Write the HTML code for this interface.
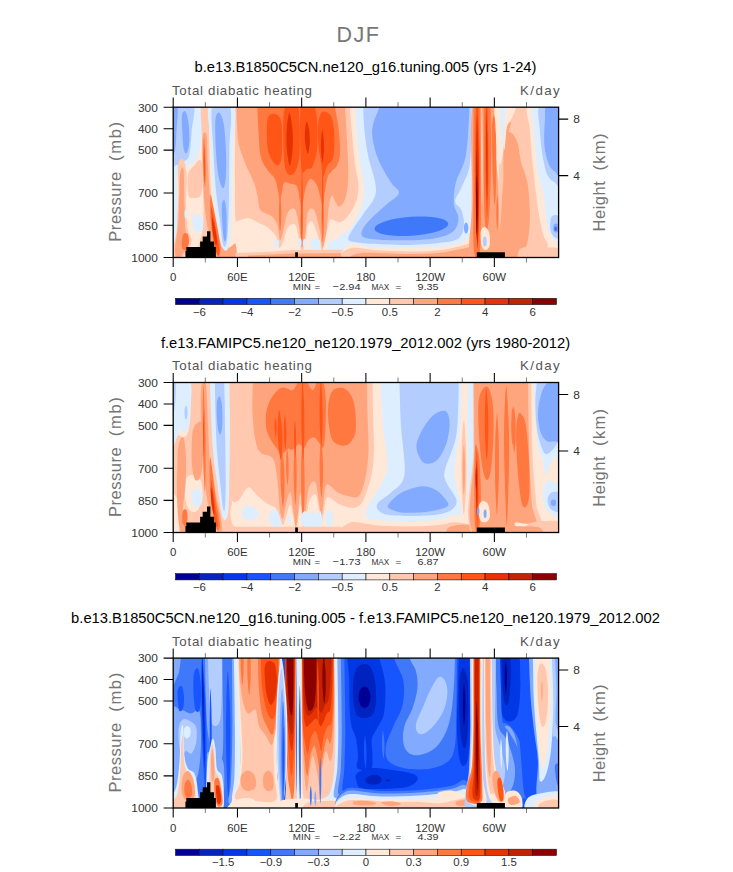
<!DOCTYPE html>
<html lang="en"><head><meta charset="utf-8"><title>DJF Total diabatic heating</title>
<style>
html,body{margin:0;padding:0;background:#fff;}
body{width:733px;height:872px;overflow:hidden;}
svg{display:block;}
text{font-family:"Liberation Sans",sans-serif;}
.tk{font-size:10.4px;fill:#333;}
.ax{font-size:16.5px;fill:#757575;}
.ts{font-size:13.3px;fill:#555;}
.ti{font-size:14.75px;fill:#000;}
.mm{font-size:9.9px;fill:#333;}
.cb{font-size:10.4px;fill:#333;}
.big{font-size:21.5px;fill:#777;letter-spacing:1.6px;}
</style></head><body>
<svg width="733" height="872" viewBox="0 0 733 872">
<defs>
<clipPath id="clip0"><rect x="173.2" y="107.2" width="385.40000000000003" height="150.3"/></clipPath>
<clipPath id="clip1"><rect x="173.2" y="382.5" width="385.40000000000003" height="150.0"/></clipPath>
<clipPath id="clip2"><rect x="173.2" y="658.1" width="385.40000000000003" height="149.9"/></clipPath>
<filter id="b1" x="-20%" y="-20%" width="140%" height="140%"><feGaussianBlur stdDeviation="0.7"/></filter>
<filter id="b2" x="-20%" y="-20%" width="140%" height="140%"><feGaussianBlur stdDeviation="1.6"/></filter>
</defs>
<rect width="733" height="872" fill="#fff"/>
<text x="358.5" y="41.6" text-anchor="middle" class="big">DJF</text>
<g id="panel0">
<g clip-path="url(#clip0)">
<g filter="url(#b1)"><rect x="171.2" y="105.2" width="389.40000000000003" height="155.0" fill="#ffe8d7"/>
<path d="M170.5 105.2C176.1 92.3 198.9 101.0 204.2 105.2C209.5 109.4 203.3 122.7 202.5 130.2C201.6 137.7 200.6 144.7 199.2 150.1C197.8 155.5 196.1 160.0 194.2 162.6C192.4 165.2 189.9 164.0 188.0 165.6C186.1 167.3 184.9 171.0 183.0 172.6C181.1 174.2 178.8 173.4 176.7 175.1C174.7 176.8 171.5 194.2 170.5 182.6C169.5 170.9 164.9 118.1 170.5 105.2Z" fill="#dceeff"/>
<path d="M170.5 105.2C174.2 94.4 189.4 101.0 193.0 105.2C196.5 109.4 192.4 121.8 191.7 130.2C191.1 138.5 190.5 149.9 189.2 155.1C188.0 160.3 185.7 159.9 184.2 161.4C182.8 162.8 181.9 163.2 180.5 163.9C179.0 164.6 177.2 164.6 175.5 165.6C173.8 166.7 171.3 180.2 170.5 170.1C169.7 160.0 166.8 116.0 170.5 105.2Z" fill="#b4cdff"/>
<path d="M170.5 105.2C171.7 96.5 176.5 101.0 177.5 105.2C178.5 109.4 176.9 122.7 176.5 130.2C176.1 137.7 176.0 145.6 175.0 150.1C174.0 154.7 171.3 165.1 170.5 157.6C169.8 150.1 169.3 113.9 170.5 105.2Z" fill="#82aaff"/>
<path d="M182.0 115.2C182.5 111.2 184.4 110.2 185.5 111.4C186.6 112.7 187.8 117.9 188.5 122.7C189.1 127.5 189.7 135.2 189.5 140.2C189.2 145.1 187.9 151.0 187.0 152.6C186.1 154.3 184.7 153.1 184.0 150.1C183.2 147.2 182.8 141.0 182.5 135.2C182.2 129.3 181.5 119.1 182.0 115.2Z" fill="#82aaff"/>
<path d="M178.0 165.1C178.7 159.9 181.5 157.2 183.0 158.9C184.4 160.5 186.2 167.4 186.7 175.1C187.2 182.8 185.8 195.9 186.0 205.1C186.2 214.2 187.0 224.2 188.0 230.0C188.9 235.9 191.7 236.7 191.7 240.0C191.7 243.4 189.9 246.9 188.0 250.0C186.1 253.2 183.2 257.5 180.5 259.0C177.8 260.5 173.2 262.2 171.8 259.0C170.3 255.8 170.9 246.9 171.8 240.0C172.6 233.1 175.6 225.9 176.7 217.6C177.9 209.2 178.3 198.8 178.5 190.1C178.7 181.3 177.2 170.3 178.0 165.1Z" fill="#ffc8af"/>
<path d="M188.0 175.1C188.9 170.2 192.1 168.1 194.2 165.6C196.3 163.1 199.0 158.5 200.5 160.1C201.9 161.7 202.9 169.3 203.0 175.1C203.0 180.9 202.6 191.3 201.0 195.1C199.3 198.9 195.1 198.1 193.0 198.1C190.9 198.1 189.3 198.9 188.5 195.1C187.6 191.3 187.0 180.0 188.0 175.1Z" fill="#ffc8af"/>
<path d="M201.0 105.2C202.0 99.8 206.5 97.7 208.0 105.2C209.4 112.7 209.0 137.2 209.5 150.1C209.9 163.0 209.9 173.4 210.5 182.6C211.0 191.8 210.9 193.8 213.0 205.1C215.0 216.3 220.6 241.0 222.9 250.0C225.2 259.0 230.8 257.5 226.7 259.0C222.5 260.5 202.0 263.8 198.0 259.0C193.9 254.2 201.5 239.0 202.5 230.0C203.4 221.0 203.5 214.2 203.5 205.1C203.5 195.9 202.7 186.3 202.5 175.1C202.2 163.9 202.2 149.3 202.0 137.7C201.7 126.0 200.0 110.6 201.0 105.2Z" fill="#ffc8af"/>
<path d="M180.0 175.1C180.8 166.8 182.7 165.1 183.5 170.1C184.2 175.1 184.2 195.1 184.5 205.1C184.8 215.1 184.8 224.2 185.5 230.0C186.2 235.9 188.5 236.7 188.5 240.0C188.5 243.4 187.2 246.9 185.5 250.0C183.7 253.2 179.7 259.0 178.0 259.0C176.2 259.0 174.9 256.5 175.0 250.0C175.1 243.5 177.7 232.5 178.5 220.1C179.3 207.6 179.2 183.4 180.0 175.1Z" fill="#ffa57d"/>
<path d="M202.5 137.7C203.0 131.0 205.5 130.6 206.5 135.2C207.4 139.7 207.3 154.3 208.0 165.1C208.6 175.9 209.1 190.9 210.5 200.1C211.8 209.2 214.1 211.3 215.9 220.1C217.8 228.8 222.2 246.0 221.7 252.5C221.2 259.0 215.2 262.7 213.0 259.0C210.7 255.3 209.4 239.0 208.0 230.0C206.5 221.0 205.3 214.2 204.5 205.1C203.6 195.9 203.3 186.3 203.0 175.1C202.6 163.9 201.9 144.3 202.5 137.7Z" fill="#ffa57d"/>
<path d="M192.5 217.6C193.3 215.5 196.2 213.4 198.0 213.8C199.7 214.2 202.2 217.3 203.0 220.1C203.7 222.8 203.5 228.0 202.5 230.0C201.4 232.1 198.3 233.2 196.7 232.5C195.1 231.9 193.7 228.8 193.0 226.3C192.3 223.8 191.6 219.6 192.5 217.6Z" fill="#dceeff"/>
<ellipse cx="186.0" cy="213.8" rx="1.5" ry="4.5" fill="#dceeff"/>
<path d="M204.0 137.7C204.3 137.7 204.9 146.0 205.2 150.1C205.5 154.3 205.6 158.5 205.7 162.6C205.8 166.8 205.8 170.9 205.7 175.1C205.6 179.3 205.3 187.6 205.0 187.6C204.6 187.6 204.0 179.3 203.7 175.1C203.4 170.9 203.3 166.8 203.2 162.6C203.1 158.5 203.1 154.3 203.2 150.1C203.3 146.0 203.6 137.7 204.0 137.7Z" fill="#ff7841"/>
<path d="M204.2 147.6C204.4 147.6 204.7 153.5 204.8 156.4C205.0 159.3 205.0 162.2 205.1 165.1C205.1 168.0 205.1 170.9 205.1 173.9C205.0 176.8 204.9 182.6 204.7 182.6C204.5 182.6 204.2 176.8 204.1 173.9C203.9 170.9 203.9 168.0 203.8 165.1C203.8 162.2 203.8 159.3 203.8 156.4C203.9 153.5 204.0 147.6 204.2 147.6Z" fill="#ff5519"/>
<path d="M210.5 195.1C210.9 193.0 211.9 200.1 213.0 205.1C214.0 210.1 215.4 217.6 216.7 225.0C218.0 232.5 220.7 244.8 220.9 250.0C221.1 255.2 219.3 257.9 217.9 256.3C216.6 254.6 214.2 246.5 213.0 240.0C211.7 233.6 210.9 225.0 210.5 217.6C210.0 210.1 210.0 197.2 210.5 195.1Z" fill="#ff7841"/>
<path d="M211.0 207.6C211.0 204.2 212.5 210.5 213.4 215.1C214.4 219.6 215.9 228.8 216.9 235.0C218.0 241.3 219.9 249.4 219.9 252.5C219.9 255.6 218.1 256.7 216.9 253.8C215.8 250.8 213.9 242.7 213.0 235.0C212.0 227.3 210.9 210.9 211.0 207.6Z" fill="#ff5519"/>
<path d="M212.0 217.6C212.2 216.3 213.6 221.3 214.4 225.0C215.3 228.8 216.7 236.7 216.9 240.0C217.2 243.4 216.6 246.3 215.9 245.0C215.3 243.8 213.6 237.1 213.0 232.5C212.3 228.0 211.7 218.8 212.0 217.6Z" fill="#e63205"/>
<path d="M183.0 235.0C183.9 232.7 186.5 232.5 187.5 233.8C188.5 235.0 189.2 239.8 189.0 242.5C188.7 245.2 187.1 249.2 186.0 250.0C184.8 250.8 182.5 250.0 182.0 247.5C181.5 245.0 182.1 237.3 183.0 235.0Z" fill="#ff7841"/>
<path d="M171.5 167.6C172.2 155.5 174.5 165.5 175.5 170.1C176.5 174.7 177.0 185.9 177.2 195.1C177.5 204.2 177.4 217.6 177.0 225.0C176.6 232.5 175.9 237.1 175.0 240.0C174.1 242.9 172.1 254.6 171.5 242.5C170.9 230.5 170.8 179.7 171.5 167.6Z" fill="#dceeff"/>
<path d="M221.9 246.3C223.4 244.4 226.9 247.9 229.2 247.5C231.4 247.1 234.4 241.9 235.4 243.8C236.5 245.7 237.9 256.5 235.4 259.0C232.9 261.5 222.7 261.1 220.4 259.0C218.2 256.9 220.5 248.2 221.9 246.3Z" fill="#ffa57d"/>
<path d="M235.4 85.2C216.4 88.5 235.5 90.2 235.4 105.2C235.3 120.2 234.9 156.4 234.9 175.1C234.9 193.8 234.8 210.0 235.4 217.6C236.0 225.1 236.3 220.5 238.4 220.5C240.5 220.6 244.7 217.7 247.9 218.1C251.2 218.4 254.6 221.0 257.9 222.5C261.2 224.1 264.9 225.3 267.9 227.5C270.9 229.8 274.0 233.0 275.9 236.3C277.7 239.6 278.0 246.5 279.1 247.5C280.3 248.6 281.4 245.9 282.9 242.5C284.3 239.2 285.8 230.5 287.9 227.5C289.9 224.6 293.5 223.0 295.3 225.0C297.2 227.1 298.0 235.7 299.1 240.0C300.2 244.4 300.8 250.8 301.8 251.3C302.9 251.7 304.3 246.9 305.3 242.5C306.3 238.2 306.6 228.4 307.8 225.0C309.1 221.7 311.0 220.1 312.8 222.5C314.7 225.0 317.6 235.2 319.1 240.0C320.6 244.8 320.9 250.7 321.8 251.3C322.7 251.8 323.4 247.1 324.3 243.3C325.3 239.5 326.4 232.5 327.6 228.5C328.7 224.6 328.9 220.6 331.1 219.6C333.2 218.5 337.2 223.2 340.3 222.3C343.4 221.4 346.8 217.9 349.5 214.1C352.3 210.2 355.3 204.5 356.8 199.3C358.2 194.1 358.6 188.7 358.3 182.8C358.0 177.0 356.0 172.0 355.0 164.4C354.0 156.7 353.1 146.8 352.3 136.9C351.4 127.0 350.2 113.8 349.8 105.2C349.4 96.6 368.8 88.5 349.8 85.2C330.7 81.9 254.5 81.9 235.4 85.2Z" fill="#ffc8af"/>
<path d="M236.4 85.2C218.3 88.5 236.3 99.0 236.4 105.2C236.5 111.4 236.6 116.4 236.9 122.7C237.3 128.9 237.1 136.0 238.4 142.6C239.7 149.3 242.4 156.2 244.9 162.6C247.4 169.1 251.3 175.9 253.4 181.3C255.5 186.8 256.2 190.3 257.4 195.1C258.6 199.9 258.0 206.5 260.4 210.1C262.8 213.6 268.8 213.8 271.6 216.3C274.5 218.8 276.0 221.1 277.4 225.0C278.7 229.0 279.0 238.8 279.9 240.0C280.8 241.3 281.5 237.1 282.9 232.5C284.2 228.0 285.8 216.3 287.9 212.6C289.9 208.8 293.4 207.1 295.3 210.1C297.3 213.0 298.5 223.8 299.6 230.0C300.7 236.3 301.1 246.7 302.1 247.5C303.0 248.3 304.4 240.9 305.3 235.0C306.3 229.2 306.4 216.7 307.8 212.6C309.3 208.4 312.1 207.1 314.1 210.1C316.1 213.0 318.4 223.8 319.8 230.0C321.2 236.3 321.3 246.7 322.3 247.5C323.3 248.3 324.9 239.7 325.8 235.0C326.7 230.4 327.0 224.9 327.6 219.6C328.1 214.2 328.6 207.1 329.3 203.1C330.1 199.1 331.0 195.6 332.1 195.6C333.1 195.5 334.5 201.0 335.8 202.8C337.0 204.7 338.0 207.1 339.5 206.6C341.1 206.0 343.6 203.3 345.0 199.3C346.4 195.4 347.5 189.3 348.0 182.8C348.5 176.4 348.2 168.3 348.0 160.6C347.8 153.0 347.3 146.1 346.8 136.9C346.3 127.7 345.3 113.8 345.0 105.2C344.7 96.6 363.1 88.5 345.0 85.2C326.9 81.9 254.5 81.9 236.4 85.2Z" fill="#ffa57d"/>
<path d="M257.4 85.2C244.5 88.5 257.2 97.7 257.4 105.2C257.6 112.7 257.8 121.5 258.4 130.2C259.0 138.8 259.3 150.4 260.9 157.1C262.5 163.9 265.6 167.0 267.9 170.6C270.2 174.2 273.2 175.6 274.9 178.9C276.5 182.1 277.0 186.6 277.9 190.1C278.7 193.6 279.2 199.7 279.9 200.1C280.5 200.5 281.1 195.5 281.9 192.6C282.6 189.7 282.9 184.1 284.4 182.6C285.8 181.1 288.3 183.2 290.4 183.8C292.4 184.5 295.3 183.6 296.8 186.3C298.4 189.0 299.1 196.1 299.8 200.1C300.6 204.0 301.0 210.1 301.6 210.1C302.2 210.1 302.6 203.8 303.3 200.1C304.0 196.3 304.7 191.1 305.8 187.6C307.0 184.1 308.5 179.3 310.3 178.9C312.2 178.4 315.2 182.0 316.8 185.1C318.5 188.2 319.4 193.8 320.3 197.6C321.3 201.3 321.9 208.0 322.6 207.6C323.2 207.1 323.5 200.1 324.3 195.1C325.1 190.0 326.4 181.2 327.6 177.4C328.7 173.5 329.4 174.0 331.1 171.9C332.7 169.7 336.0 167.7 337.5 164.4C339.0 161.0 339.9 157.8 340.0 151.6C340.2 145.5 339.4 135.4 338.5 127.7C337.7 119.9 335.4 112.3 334.8 105.2C334.2 98.1 347.7 88.5 334.8 85.2C321.9 81.9 270.3 81.9 257.4 85.2Z" fill="#ff7841"/>
<path d="M280.1 195.1C280.4 195.1 280.9 201.1 281.1 204.1C281.3 207.1 281.4 210.2 281.4 213.2C281.4 216.2 281.3 219.2 281.1 222.2C280.9 225.3 280.4 231.3 280.1 231.3C279.8 231.3 279.3 225.3 279.1 222.2C278.9 219.2 278.9 216.2 278.9 213.2C278.9 210.2 278.9 207.1 279.1 204.1C279.3 201.1 279.8 195.1 280.1 195.1Z" fill="#ff7841"/>
<path d="M301.6 200.1C301.9 200.1 302.4 208.0 302.7 211.9C302.9 215.9 302.9 219.8 303.0 223.8C303.0 227.7 303.0 231.7 302.8 235.7C302.6 239.6 302.2 247.5 301.8 247.5C301.5 247.5 301.0 239.6 300.8 235.7C300.5 231.7 300.5 227.7 300.5 223.8C300.4 219.8 300.5 215.9 300.7 211.9C300.8 208.0 301.3 200.1 301.6 200.1Z" fill="#ff7841"/>
<path d="M322.6 200.1C322.9 200.1 323.4 207.1 323.6 210.7C323.9 214.2 323.9 217.8 323.9 221.3C324.0 224.8 323.9 228.4 323.7 231.9C323.6 235.4 323.1 242.5 322.8 242.5C322.5 242.5 322.0 235.4 321.8 231.9C321.5 228.4 321.5 224.8 321.4 221.3C321.4 217.8 321.4 214.2 321.6 210.7C321.8 207.1 322.2 200.1 322.6 200.1Z" fill="#ff7841"/>
<path d="M267.4 120.2C268.0 116.7 269.1 115.0 270.9 114.2C272.6 113.4 276.1 113.8 277.9 115.2C279.6 116.6 280.7 118.5 281.4 122.7C282.1 126.8 282.1 134.1 282.1 140.2C282.1 146.2 282.2 154.6 281.4 158.9C280.6 163.1 279.0 165.4 277.4 165.6C275.8 165.8 273.5 162.7 271.9 160.1C270.3 157.5 268.7 154.3 267.9 150.1C267.0 146.0 267.0 140.2 266.9 135.2C266.8 130.2 266.7 123.7 267.4 120.2Z" fill="#ff5519"/>
<path d="M283.4 117.7C283.9 110.2 284.6 107.3 286.9 105.2C289.1 103.1 295.0 103.1 297.1 105.2C299.2 107.3 298.9 111.9 299.3 117.7C299.8 123.5 299.9 133.5 299.8 140.2C299.8 146.8 299.8 152.6 299.1 157.6C298.4 162.7 297.3 167.7 295.8 170.6C294.4 173.5 292.1 175.4 290.4 175.1C288.6 174.8 286.5 173.0 285.4 168.9C284.2 164.7 283.9 158.7 283.6 150.1C283.3 141.6 282.8 125.2 283.4 117.7Z" fill="#ff5519"/>
<path d="M300.1 117.7C300.4 109.8 300.1 107.3 302.3 105.2C304.5 103.1 310.9 103.1 313.3 105.2C315.7 107.3 316.2 112.3 316.8 117.7C317.5 123.1 317.4 131.8 317.3 137.7C317.3 143.5 317.4 147.7 316.6 152.6C315.7 157.5 313.7 164.4 312.1 167.1C310.5 169.9 308.5 168.3 306.8 169.1C305.2 169.9 303.1 174.9 302.1 172.1C301.0 169.4 300.9 161.7 300.6 152.6C300.3 143.6 299.8 125.6 300.1 117.7Z" fill="#ff5519"/>
<path d="M318.1 125.2C318.6 119.3 319.8 113.8 321.8 112.2C323.9 110.5 328.3 112.6 330.3 115.2C332.3 117.8 333.1 122.7 333.8 127.7C334.5 132.7 334.5 139.9 334.3 145.1C334.1 150.4 334.0 155.7 332.8 159.1C331.6 162.5 328.9 162.7 327.3 165.6C325.7 168.5 324.1 177.1 323.1 176.6C322.0 176.1 321.8 167.4 321.1 162.6C320.3 157.8 319.1 153.9 318.6 147.6C318.1 141.4 317.5 131.1 318.1 125.2Z" fill="#ff5519"/>
<path d="M289.4 112.7C290.2 112.7 291.5 121.5 292.1 125.9C292.7 130.3 292.8 134.7 292.9 139.2C292.9 143.6 292.8 148.0 292.3 152.4C291.8 156.8 290.7 165.6 289.9 165.6C289.0 165.6 287.7 156.8 287.1 152.4C286.5 148.0 286.4 143.6 286.4 139.2C286.3 134.7 286.4 130.3 286.9 125.9C287.4 121.5 288.5 112.7 289.4 112.7Z" fill="#e63205"/>
<path d="M306.8 121.4C307.5 121.4 308.6 126.8 309.1 129.5C309.6 132.2 309.7 134.9 309.8 137.7C309.9 140.4 309.9 143.1 309.6 145.8C309.2 148.5 308.5 153.9 307.8 153.9C307.2 153.9 306.1 148.5 305.6 145.8C305.1 143.1 304.9 140.4 304.8 137.7C304.8 134.9 304.8 132.2 305.1 129.5C305.4 126.8 306.2 121.4 306.8 121.4Z" fill="#e63205"/>
<path d="M322.3 130.2C322.7 130.2 323.3 135.6 323.6 138.3C323.8 141.0 323.9 143.7 323.9 146.4C324.0 149.1 323.9 151.8 323.7 154.5C323.5 157.2 323.0 162.6 322.6 162.6C322.2 162.6 321.6 157.2 321.3 154.5C321.0 151.8 321.0 149.1 320.9 146.4C320.9 143.7 320.9 141.0 321.2 138.3C321.4 135.6 321.9 130.2 322.3 130.2Z" fill="#e63205"/>
<path d="M302.1 165.1C302.3 165.1 302.5 177.6 302.6 183.8C302.7 190.1 302.7 196.3 302.7 202.6C302.7 208.8 302.6 215.1 302.5 221.3C302.4 227.5 302.0 240.0 301.8 240.0C301.6 240.0 301.4 227.5 301.3 221.3C301.2 215.1 301.2 208.8 301.2 202.6C301.2 196.3 301.3 190.1 301.4 183.8C301.6 177.6 301.9 165.1 302.1 165.1Z" fill="#ff5519"/>
<path d="M322.6 162.6C322.8 162.6 323.1 173.0 323.2 178.2C323.4 183.4 323.4 188.6 323.4 193.8C323.5 199.0 323.5 204.2 323.3 209.4C323.2 214.6 323.0 225.0 322.8 225.0C322.6 225.0 322.3 214.6 322.2 209.4C322.0 204.2 322.0 199.0 321.9 193.8C321.9 188.6 321.9 183.4 322.0 178.2C322.1 173.0 322.4 162.6 322.6 162.6Z" fill="#ff5519"/>
<path d="M209.5 105.2C213.3 99.4 229.8 97.7 233.7 105.2C237.6 112.7 233.2 134.3 232.9 150.1C232.6 166.0 232.3 186.8 231.9 200.1C231.6 213.4 231.5 222.1 230.9 230.0C230.3 237.9 229.6 244.2 228.4 247.5C227.3 250.8 225.6 251.3 224.2 250.0C222.8 248.8 221.4 246.7 219.9 240.0C218.5 233.4 216.8 219.6 215.4 210.1C214.1 200.5 212.8 194.2 212.0 182.6C211.1 170.9 210.9 153.1 210.5 140.2C210.0 127.2 205.6 111.0 209.5 105.2Z" fill="#dceeff"/>
<path d="M212.5 105.2C215.2 97.7 227.1 97.7 229.9 105.2C232.8 112.7 229.6 134.3 229.4 150.1C229.3 166.0 229.2 186.8 228.9 200.1C228.7 213.4 228.4 222.5 227.9 230.0C227.4 237.5 226.8 242.7 225.9 245.0C225.1 247.3 223.9 247.9 222.9 243.8C221.9 239.6 221.1 229.0 219.9 220.1C218.8 211.1 217.0 201.7 215.9 190.1C214.9 178.4 214.0 164.3 213.4 150.1C212.9 136.0 209.7 112.7 212.5 105.2Z" fill="#b4cdff"/>
<path d="M215.4 120.2C216.0 113.9 217.8 112.1 219.2 112.7C220.6 113.3 222.6 117.7 223.7 123.9C224.8 130.2 225.6 141.6 225.9 150.1C226.3 158.7 226.3 168.9 225.9 175.1C225.6 181.3 224.8 185.9 223.9 187.6C223.1 189.3 221.9 187.6 220.9 185.1C219.9 182.6 218.8 178.4 217.9 172.6C217.1 166.8 216.4 158.9 215.9 150.1C215.5 141.4 214.9 126.4 215.4 120.2Z" fill="#82aaff"/>
<path d="M221.9 205.1C222.3 201.7 223.7 198.8 224.4 200.1C225.2 201.3 226.1 206.7 226.4 212.6C226.8 218.4 226.7 230.2 226.4 235.0C226.2 239.9 225.4 241.3 224.9 241.5C224.4 241.7 223.9 239.9 223.4 236.3C223.0 232.7 222.4 225.3 222.2 220.1C221.9 214.8 221.6 208.4 221.9 205.1Z" fill="#82aaff"/>
<ellipse cx="276.6" cy="243.5" rx="2.5" ry="4.0" fill="#dceeff"/>
<ellipse cx="299.6" cy="242.5" rx="2.0" ry="4.5" fill="#dceeff"/>
<ellipse cx="304.6" cy="243.0" rx="1.7" ry="4.0" fill="#dceeff"/>
<path d="M310.3 241.5C311.0 239.9 313.2 238.2 314.8 238.0C316.4 237.9 318.9 238.9 319.8 240.5C320.7 242.2 321.1 246.5 320.3 248.0C319.6 249.5 316.9 249.6 315.3 249.5C313.7 249.4 311.7 248.8 310.8 247.5C310.0 246.2 309.7 243.1 310.3 241.5Z" fill="#dceeff"/>
<path d="M327.8 243.8C329.1 241.7 334.5 239.8 337.8 237.5C341.1 235.2 344.5 232.5 347.8 230.0C351.1 227.5 355.3 224.2 357.8 222.5C360.3 220.9 361.9 215.7 362.8 220.1C363.6 224.4 366.1 243.7 362.8 248.8C359.4 253.8 348.2 250.3 342.8 250.5C337.4 250.7 332.8 251.1 330.3 250.0C327.8 248.9 326.6 245.9 327.8 243.8Z" fill="#dceeff"/>
<path d="M235.4 253.0L272.9 251.5L292.9 250.0L362.8 249.5L362.8 259.0L235.4 259.0Z" fill="#ffc8af"/>
<path d="M247.9 255.5L292.9 253.5L362.8 253.0L362.8 259.0L247.9 259.0Z" fill="#ffa57d"/>
<path d="M355.0 85.2C335.2 88.5 354.6 96.6 355.0 105.2C355.4 113.8 356.3 127.0 357.2 136.9C358.2 146.8 359.3 155.8 360.5 164.4C361.7 172.9 363.9 181.9 364.2 188.3C364.6 194.7 364.2 197.0 362.5 202.8C360.8 208.6 356.7 217.7 354.0 223.0C351.3 228.4 347.3 231.6 346.0 235.0C344.7 238.5 343.5 241.8 346.0 243.8C348.5 245.8 351.0 246.3 361.0 247.0C371.0 247.7 393.0 248.1 405.9 248.0C418.8 248.0 429.2 247.6 438.4 246.8C447.6 245.9 455.5 245.8 460.9 243.0C466.3 240.2 468.6 237.2 470.9 230.0C473.1 222.9 473.9 220.9 474.4 200.1C474.9 179.3 473.9 124.3 473.9 105.2C473.8 86.1 493.7 88.5 473.9 85.2C454.0 81.9 374.8 81.9 355.0 85.2Z" fill="#dceeff"/>
<path d="M363.2 85.2C345.1 88.5 363.1 98.1 363.2 105.2C363.4 112.3 363.4 119.3 364.2 127.7C365.0 136.0 366.0 144.5 368.0 155.1C369.9 165.7 376.7 181.6 376.0 191.3C375.2 201.1 367.4 207.4 363.5 213.8C359.5 220.3 354.8 225.7 352.3 230.0C349.8 234.4 347.1 237.9 348.5 240.0C350.0 242.2 357.2 242.4 361.0 243.0C364.7 243.6 363.5 243.4 371.0 243.8C378.5 244.1 394.7 245.1 405.9 245.0C417.2 244.9 429.7 244.1 438.4 243.0C447.1 241.9 454.1 241.5 458.4 238.5C462.6 235.5 463.4 229.8 463.9 225.0C464.4 220.3 462.8 214.0 461.4 210.1C459.9 206.1 455.1 205.1 455.1 201.3C455.1 197.6 458.9 194.0 461.4 187.6C463.9 181.1 468.4 176.4 470.1 162.6C471.9 148.9 471.6 118.1 471.9 105.2C472.1 92.3 490.0 88.5 471.9 85.2C453.8 81.9 381.3 81.9 363.2 85.2Z" fill="#b4cdff"/>
<path d="M379.7 85.2C364.7 88.5 380.8 99.0 379.7 105.2C378.7 111.4 374.7 117.3 373.5 122.7C372.3 128.1 371.6 131.4 372.5 137.7C373.3 143.9 375.4 152.6 378.5 160.1C381.6 167.6 387.5 177.1 391.0 182.6C394.4 188.1 399.8 189.3 398.9 193.1C398.1 196.8 391.0 200.4 386.0 205.1C380.9 209.8 372.6 216.7 368.5 221.3C364.4 225.9 361.9 229.7 361.5 232.5C361.1 235.3 361.9 236.8 366.0 238.0C370.1 239.3 377.2 239.7 386.0 240.0C394.7 240.4 409.3 240.5 418.4 240.0C427.6 239.5 434.9 238.7 440.9 237.0C446.9 235.4 451.7 233.3 454.6 230.0C457.5 226.8 458.5 221.9 458.4 217.6C458.2 213.2 454.3 209.6 453.9 203.8C453.5 198.0 453.9 190.7 455.9 182.6C457.9 174.5 463.6 168.0 465.9 155.1C468.2 142.2 469.0 116.8 469.6 105.2C470.2 93.5 484.6 88.5 469.6 85.2C454.6 81.9 394.7 81.9 379.7 85.2Z" fill="#82aaff"/>
<ellipse cx="411.4" cy="226.3" rx="37.0" ry="9.5" fill="#4178fa" transform="rotate(-4 411.4 226.3)"/>
<ellipse cx="466.1" cy="228.0" rx="2.2" ry="5.5" fill="#82aaff"/>
<ellipse cx="484.8" cy="241.5" rx="2.0" ry="5.0" fill="#b4cdff"/>
<path d="M351.0 243.8C354.3 241.9 361.8 246.6 371.0 247.5C380.1 248.4 394.7 249.0 405.9 249.0C417.2 249.0 429.2 248.4 438.4 247.5C447.6 246.6 455.0 244.8 460.9 243.5C466.7 242.3 471.3 237.4 473.4 240.0C475.4 242.6 493.7 255.8 473.4 259.0C453.0 262.2 371.4 261.5 351.0 259.0C330.6 256.5 347.7 245.7 351.0 243.8Z" fill="#ffe8d7"/>
<path d="M351.0 248.0C356.0 246.6 369.7 249.9 381.0 250.5C392.2 251.1 408.4 251.6 418.4 251.5C428.4 251.4 433.8 250.9 440.9 250.0C448.0 249.1 455.5 247.3 460.9 246.3C466.3 245.2 471.3 241.6 473.4 243.8C475.4 245.9 493.7 256.5 473.4 259.0C453.0 261.5 371.4 260.8 351.0 259.0C330.6 257.2 346.0 249.4 351.0 248.0Z" fill="#ffc8af"/>
<path d="M361.0 253.0C368.5 252.2 393.0 254.0 405.9 254.0C418.8 254.0 429.2 253.8 438.4 253.0C447.6 252.2 455.0 249.9 460.9 249.0C466.7 248.1 471.3 245.9 473.4 247.5C475.4 249.2 492.1 257.1 473.4 259.0C454.6 260.9 379.7 260.0 361.0 259.0C342.3 258.0 353.5 253.8 361.0 253.0Z" fill="#ffa57d"/>
<path d="M472.4 105.2L505.8 105.2L505.8 259.0L469.6 259.0L470.9 240.0Z" fill="#ffc8af"/>
<path d="M494.8 105.2C496.7 101.0 504.1 101.0 505.8 105.2C507.5 109.4 505.3 120.6 504.8 130.2C504.3 139.7 503.7 153.9 502.8 162.6C501.9 171.4 500.7 182.6 499.6 182.6C498.5 182.6 497.1 171.4 496.3 162.6C495.5 153.9 495.1 139.7 494.8 130.2C494.6 120.6 493.0 109.4 494.8 105.2Z" fill="#ffe8d7"/>
<path d="M472.9 105.2C476.8 89.4 492.2 99.8 495.8 105.2C499.5 110.6 494.6 126.0 494.8 137.7C495.1 149.3 496.5 163.9 497.3 175.1C498.1 186.3 498.6 195.9 499.6 205.1C500.6 214.2 502.4 221.0 503.3 230.0C504.3 239.0 510.6 254.2 505.3 259.0C500.0 263.8 476.8 268.8 471.4 259.0C465.9 249.2 472.1 225.7 472.4 200.1C472.6 174.4 468.9 121.0 472.9 105.2Z" fill="#ffa57d"/>
<path d="M473.6 85.2C472.5 88.5 473.6 90.2 473.6 105.2C473.6 120.2 473.3 151.0 473.4 175.1C473.4 199.2 472.7 237.5 473.9 250.0C475.0 262.5 478.9 262.5 480.1 250.0C481.3 237.5 480.8 199.2 480.8 175.1C480.9 151.0 480.4 120.2 480.3 105.2C480.3 90.2 481.5 88.5 480.3 85.2C479.2 81.9 474.7 81.9 473.6 85.2Z" fill="#ff7841"/>
<path d="M483.6 85.2C482.4 88.5 483.5 90.2 483.6 105.2C483.6 120.2 483.6 156.0 483.8 175.1C484.0 194.2 484.3 210.9 484.8 220.1C485.4 229.2 486.5 232.5 487.3 230.0C488.2 227.5 489.2 218.4 489.8 205.1C490.5 191.8 491.0 166.8 491.1 150.1C491.2 133.5 490.7 116.0 490.6 105.2C490.5 94.4 491.7 88.5 490.6 85.2C489.4 81.9 484.8 81.9 483.6 85.2Z" fill="#ff7841"/>
<path d="M481.8 105.2C482.1 105.2 482.5 121.8 482.7 130.2C482.9 138.5 482.9 146.8 483.0 155.1C483.0 163.5 483.0 171.8 482.8 180.1C482.7 188.4 482.4 205.1 482.1 205.1C481.8 205.1 481.4 188.4 481.2 180.1C481.0 171.8 481.0 163.5 481.0 155.1C480.9 146.8 481.0 138.5 481.1 130.2C481.3 121.8 481.6 105.2 481.8 105.2Z" fill="#ffc8af"/>
<path d="M491.8 130.2C492.0 120.2 493.2 115.2 493.8 115.2C494.5 115.2 495.4 120.2 495.8 130.2C496.2 140.2 496.5 162.6 496.3 175.1C496.2 187.6 495.4 205.1 494.8 205.1C494.2 205.1 493.3 187.6 492.8 175.1C492.3 162.6 491.7 140.2 491.8 130.2Z" fill="#ff7841"/>
<path d="M477.1 90.2C477.7 90.2 478.6 116.8 479.0 130.2C479.4 143.5 479.6 156.8 479.6 170.1C479.6 183.4 479.6 196.7 479.3 210.1C478.9 223.4 478.2 250.0 477.6 250.0C477.0 250.0 476.1 223.4 475.7 210.1C475.3 196.7 475.1 183.4 475.1 170.1C475.1 156.8 475.1 143.5 475.4 130.2C475.8 116.8 476.5 90.2 477.1 90.2Z" fill="#ff5519"/>
<path d="M486.6 90.2C487.0 90.2 487.6 111.4 487.9 122.0C488.2 132.7 488.3 143.3 488.3 153.9C488.4 164.5 488.4 175.1 488.2 185.7C488.0 196.3 487.5 217.6 487.1 217.6C486.7 217.6 486.1 196.3 485.8 185.7C485.5 175.1 485.4 164.5 485.3 153.9C485.3 143.3 485.3 132.7 485.5 122.0C485.7 111.4 486.2 90.2 486.6 90.2Z" fill="#ff5519"/>
<path d="M477.1 115.2C477.5 115.2 478.1 137.2 478.4 148.3C478.7 159.3 478.8 170.3 478.8 181.3C478.9 192.4 478.9 203.4 478.7 214.4C478.5 225.5 478.0 247.5 477.6 247.5C477.2 247.5 476.6 225.5 476.3 214.4C476.0 203.4 475.9 192.4 475.9 181.3C475.8 170.3 475.8 159.3 476.0 148.3C476.2 137.2 476.7 115.2 477.1 115.2Z" fill="#e63205"/>
<path d="M486.6 110.2C486.8 110.2 487.1 125.2 487.3 132.7C487.5 140.2 487.5 147.6 487.6 155.1C487.6 162.6 487.6 170.1 487.6 177.6C487.5 185.1 487.3 200.1 487.1 200.1C486.9 200.1 486.5 185.1 486.4 177.6C486.2 170.1 486.1 162.6 486.1 155.1C486.0 147.6 486.0 140.2 486.1 132.7C486.2 125.2 486.4 110.2 486.6 110.2Z" fill="#e63205"/>
<path d="M476.8 150.1C477.1 150.1 477.6 165.1 477.8 172.6C478.0 180.1 478.1 187.6 478.1 195.1C478.1 202.6 478.1 210.1 477.9 217.6C477.8 225.0 477.4 240.0 477.1 240.0C476.8 240.0 476.3 225.0 476.1 217.6C475.9 210.1 475.9 202.6 475.9 195.1C475.8 187.6 475.8 180.1 476.0 172.6C476.2 165.1 476.5 150.1 476.8 150.1Z" fill="#c32305"/>
<path d="M476.8 175.1C477.1 175.1 477.4 185.1 477.5 190.1C477.7 195.1 477.7 200.1 477.7 205.1C477.7 210.1 477.7 215.1 477.5 220.1C477.4 225.0 477.1 235.0 476.8 235.0C476.6 235.0 476.3 225.0 476.1 220.1C476.0 215.1 476.0 210.1 476.0 205.1C476.0 200.1 476.0 195.1 476.1 190.1C476.3 185.1 476.6 175.1 476.8 175.1Z" fill="#8c0000"/>
<path d="M502.1 182.6C502.6 182.6 503.5 195.3 504.0 201.7C504.4 208.1 504.6 214.4 504.7 220.8C504.8 227.2 504.8 233.5 504.6 239.9C504.4 246.3 503.8 259.0 503.3 259.0C502.8 259.0 501.8 246.3 501.4 239.9C501.0 233.5 500.8 227.2 500.7 220.8C500.6 214.4 500.6 208.1 500.8 201.7C501.0 195.3 501.5 182.6 502.1 182.6Z" fill="#ff7841"/>
<path d="M497.3 195.1C497.6 195.1 498.0 200.9 498.1 203.8C498.3 206.7 498.3 209.6 498.3 212.6C498.3 215.5 498.3 218.4 498.1 221.3C498.0 224.2 497.6 230.0 497.3 230.0C497.1 230.0 496.7 224.2 496.5 221.3C496.4 218.4 496.3 215.5 496.3 212.6C496.3 209.6 496.4 206.7 496.5 203.8C496.7 200.9 497.1 195.1 497.3 195.1Z" fill="#ff7841"/>
<path d="M480.8 231.3C481.4 228.2 483.5 226.8 484.8 227.0C486.2 227.2 488.3 229.5 489.1 232.5C489.9 235.5 490.4 242.1 489.8 245.0C489.3 247.9 487.2 249.9 485.8 250.0C484.5 250.1 482.4 248.6 481.6 245.5C480.8 242.4 480.3 234.4 480.8 231.3Z" fill="#ffe8d7"/>
<ellipse cx="484.8" cy="241.5" rx="2.0" ry="5.0" fill="#b4cdff"/>
<path d="M503.3 105.2C507.9 79.6 525.4 97.7 530.8 105.2C536.2 112.7 534.1 134.3 535.8 150.1C537.4 166.0 539.1 181.9 540.8 200.1C542.4 218.2 552.0 249.2 545.8 259.0C539.5 268.8 510.4 284.6 503.3 259.0C496.2 233.4 498.7 130.8 503.3 105.2Z" fill="#ffc8af"/>
<path d="M505.8 127.7C507.3 121.0 510.0 122.7 512.1 122.7C514.1 122.7 516.5 123.1 518.3 127.7C520.1 132.2 521.1 141.0 522.8 150.1C524.5 159.3 527.0 170.9 528.3 182.6C529.6 194.2 529.5 207.3 530.8 220.1C532.0 232.8 539.9 252.5 535.8 259.0C531.6 265.5 511.0 268.8 505.8 259.0C500.7 249.2 505.2 216.1 504.8 200.1C504.4 184.0 503.1 174.7 503.3 162.6C503.5 150.6 504.4 134.3 505.8 127.7Z" fill="#ffa57d"/>
<path d="M504.8 105.2C506.9 101.0 514.6 103.1 515.8 105.2C517.0 107.3 513.6 113.9 512.1 117.7C510.6 121.4 508.0 122.3 506.8 127.7C505.6 133.1 505.4 149.7 504.8 150.1C504.2 150.6 503.3 137.7 503.3 130.2C503.3 122.7 502.7 109.4 504.8 105.2Z" fill="#ffe8d7"/>
<path d="M508.3 235.0C509.1 230.5 513.7 224.2 515.8 225.0C517.9 225.9 520.4 235.4 520.8 240.0C521.2 244.6 520.0 250.4 518.3 252.5C516.6 254.6 512.5 255.4 510.8 252.5C509.1 249.6 507.5 239.6 508.3 235.0Z" fill="#ffc8af"/>
<path d="M528.9 105.2C534.3 101.0 556.8 81.5 562.4 105.2C568.0 128.9 563.6 224.0 562.4 247.5C561.1 271.0 557.7 247.5 554.9 246.3C552.1 245.0 547.9 244.4 545.4 240.0C542.9 235.7 541.5 227.5 539.9 220.1C538.4 212.6 537.4 204.7 536.2 195.1C534.9 185.5 533.5 173.4 532.4 162.6C531.4 151.8 530.5 139.7 529.9 130.2C529.4 120.6 523.5 109.4 528.9 105.2Z" fill="#ffe8d7"/>
<path d="M495.0 105.2C496.8 101.9 504.6 101.0 506.2 105.2C507.9 109.4 505.5 122.3 505.0 130.2C504.4 138.1 503.8 146.8 503.0 152.6C502.1 158.5 500.9 165.5 500.0 165.1C499.1 164.7 498.2 156.8 497.5 150.1C496.7 143.5 495.9 132.7 495.5 125.2C495.1 117.7 493.2 108.5 495.0 105.2Z" fill="#ffe8d7"/>
<path d="M500.0 105.2C500.6 101.0 504.2 101.9 505.0 105.2C505.7 108.5 504.9 117.7 504.5 125.2C504.1 132.7 503.1 149.3 502.5 150.1C501.9 151.0 501.4 137.7 501.0 130.2C500.6 122.7 499.3 109.4 500.0 105.2Z" fill="#dceeff"/>
<path d="M512.5 120.2C514.5 116.4 517.5 113.9 520.0 115.2C522.4 116.4 525.8 119.8 527.4 127.7C529.1 135.6 528.9 151.4 529.9 162.6C531.0 173.9 532.6 184.7 533.7 195.1C534.7 205.5 535.1 217.1 536.2 225.0C537.2 233.0 538.9 236.9 539.9 242.5C541.0 248.2 548.2 256.3 542.4 259.0C536.6 261.7 511.0 268.8 505.0 259.0C498.9 249.2 506.2 216.1 506.2 200.1C506.2 184.0 504.8 173.0 505.0 162.6C505.2 152.2 506.2 144.7 507.5 137.7C508.7 130.6 510.4 123.9 512.5 120.2Z" fill="#ffc8af"/>
<path d="M506.2 137.7C507.5 130.6 509.3 131.8 511.2 132.7C513.1 133.5 515.8 137.7 517.5 142.6C519.1 147.6 519.5 156.0 521.2 162.6C522.9 169.3 526.0 174.3 527.4 182.6C528.9 190.9 529.7 203.8 529.9 212.6C530.1 221.3 529.5 228.8 528.7 235.0C527.9 241.3 526.8 246.0 524.9 250.0C523.1 254.0 521.6 257.5 517.5 259.0C513.3 260.5 502.7 266.7 500.0 259.0C497.3 251.3 500.6 226.5 501.2 212.6C501.8 198.6 502.9 187.6 503.7 175.1C504.6 162.6 505.0 144.7 506.2 137.7Z" fill="#ffa57d"/>
<path d="M520.0 249.0C521.6 247.1 525.8 246.9 529.9 247.5C534.1 248.1 542.4 250.6 544.9 252.5C547.4 254.4 549.1 257.9 544.9 259.0C540.8 260.1 524.1 260.7 520.0 259.0C515.8 257.3 518.3 250.9 520.0 249.0Z" fill="#ffc8af"/>
<path d="M532.9 105.2C537.8 101.9 557.5 82.1 562.4 105.2C567.3 128.3 563.6 221.3 562.4 243.8C561.1 266.2 557.3 242.3 554.9 240.0C552.5 237.7 549.5 235.0 547.9 230.0C546.3 225.0 546.1 215.9 545.4 210.1C544.7 204.2 544.8 200.9 543.7 195.1C542.5 189.3 540.0 182.6 538.7 175.1C537.3 167.6 536.3 158.5 535.4 150.1C534.6 141.8 533.8 132.7 533.4 125.2C533.0 117.7 528.1 108.5 532.9 105.2Z" fill="#dceeff"/>
<path d="M539.9 105.2C543.7 101.0 558.7 92.1 562.4 105.2C566.1 118.3 563.6 170.9 562.4 183.8C561.1 196.7 557.4 184.1 554.9 182.6C552.4 181.1 549.4 179.3 547.4 175.1C545.4 170.9 544.2 165.1 542.9 157.6C541.7 150.1 540.4 138.9 539.9 130.2C539.4 121.4 536.2 109.4 539.9 105.2Z" fill="#b4cdff"/>
<path d="M546.9 105.2C549.8 102.7 559.8 93.9 562.4 105.2C565.0 116.5 563.6 162.1 562.4 173.1C561.1 184.1 557.2 172.9 554.9 171.4C552.6 169.8 550.4 168.2 548.7 163.9C546.9 159.5 545.0 152.4 544.4 145.1C543.8 137.9 544.5 126.8 544.9 120.2C545.3 113.5 544.0 107.7 546.9 105.2Z" fill="#82aaff"/>
<path d="M551.2 217.6C552.1 215.1 554.5 214.6 556.2 215.1C557.8 215.5 560.3 216.5 561.1 220.1C562.0 223.6 562.2 233.4 561.1 236.3C560.1 239.2 556.7 238.6 554.9 237.5C553.1 236.5 551.0 233.4 550.4 230.0C549.8 226.7 550.2 220.1 551.2 217.6Z" fill="#b4cdff"/>
<ellipse cx="556.2" cy="228.0" rx="3.0" ry="4.5" fill="#82aaff"/>
<ellipse cx="555.7" cy="228.8" rx="1.5" ry="2.2" fill="#4178fa"/>
<path d="M539.9 250.0C542.0 248.1 548.7 247.5 552.4 247.5C556.2 247.5 560.7 248.1 562.4 250.0C564.1 251.9 566.1 257.5 562.4 259.0C558.7 260.5 543.7 260.5 539.9 259.0C536.2 257.5 537.8 251.9 539.9 250.0Z" fill="#ffc8af"/></g><path d="M185.4 257.8L185.4 250.7L186.3 250.7L186.3 247.1L200.1 247.1L200.1 241.4L202.7 241.4L202.7 236.4L207.0 236.4L207.0 231.3L210.4 231.3L210.4 241.4L214.1 241.4L214.1 247.1L215.9 247.1L215.9 257.8ZM295.2 257.8V252.2H297.9V257.8ZM476.8 257.8V252.2H504.9V257.8Z" fill="#000"/>
</g>
<rect x="173.2" y="107.2" width="385.40000000000003" height="150.3" fill="none" stroke="#000" stroke-width="1.3"/>
<path d="M173.20 107.2v-9.6M173.20 257.5v9.6M237.43 107.2v-9.6M237.43 257.5v9.6M301.67 107.2v-9.6M301.67 257.5v9.6M365.90 107.2v-9.6M365.90 257.5v9.6M430.13 107.2v-9.6M430.13 257.5v9.6M494.37 107.2v-9.6M494.37 257.5v9.6M173.2 107.20h-9.6M173.2 128.67h-9.6M173.2 150.14h-9.6M173.2 193.09h-9.6M173.2 225.29h-9.6M173.2 257.50h-9.6M558.6 119.10h9.6M558.6 175.60h9.6" stroke="#000" stroke-width="1.05" fill="none"/>
<path d="M205.32 107.2v-5M205.32 257.5v5M269.55 107.2v-5M269.55 257.5v5M333.78 107.2v-5M333.78 257.5v5M398.02 107.2v-5M398.02 257.5v5M462.25 107.2v-5M462.25 257.5v5M526.48 107.2v-5M526.48 257.5v5" stroke="#222" stroke-width="0.6" fill="none"/>
<text transform="translate(157.9 111.50) scale(1.15 1)" text-anchor="end" class="tk">300</text>
<text transform="translate(157.9 132.97) scale(1.15 1)" text-anchor="end" class="tk">400</text>
<text transform="translate(157.9 154.44) scale(1.15 1)" text-anchor="end" class="tk">500</text>
<text transform="translate(157.9 197.39) scale(1.15 1)" text-anchor="end" class="tk">700</text>
<text transform="translate(157.9 229.59) scale(1.15 1)" text-anchor="end" class="tk">850</text>
<text transform="translate(157.9 261.80) scale(1.15 1)" text-anchor="end" class="tk">1000</text>
<text transform="translate(573.3 123.40) scale(1.15 1)" class="tk">8</text>
<text transform="translate(573.3 179.90) scale(1.15 1)" class="tk">4</text>
<text transform="translate(173.20 281.00) scale(1.1 1)" text-anchor="middle" class="tk">0</text>
<text transform="translate(237.43 281.00) scale(1.1 1)" text-anchor="middle" class="tk">60E</text>
<text transform="translate(301.67 281.00) scale(1.1 1)" text-anchor="middle" class="tk">120E</text>
<text transform="translate(365.90 281.00) scale(1.1 1)" text-anchor="middle" class="tk">180</text>
<text transform="translate(430.13 281.00) scale(1.1 1)" text-anchor="middle" class="tk">120W</text>
<text transform="translate(494.37 281.00) scale(1.1 1)" text-anchor="middle" class="tk">60W</text>
<text transform="translate(121 241.70) rotate(-90)" class="ax" textLength="69.8" lengthAdjust="spacing">Pressure</text>
<text transform="translate(121 160.90) rotate(-90)" class="ax" textLength="39" lengthAdjust="spacing">(mb)</text>
<text transform="translate(605 231.40) rotate(-90)" class="ax" textLength="50.2" lengthAdjust="spacing">Height</text>
<text transform="translate(605 170.60) rotate(-90)" class="ax" textLength="37" lengthAdjust="spacing">(km)</text>
<text x="172" y="94.90" class="ts" textLength="140" lengthAdjust="spacing">Total diabatic heating</text>
<text x="559.6" y="94.90" text-anchor="end" class="ts" textLength="39.5" lengthAdjust="spacing">K/day</text>
<text x="365.5" y="72.20" text-anchor="middle" class="ti">b.e13.B1850C5CN.ne120_g16.tuning.005 (yrs 1-24)</text>
<text y="289.90" class="mm"><tspan x="292.8" textLength="18" lengthAdjust="spacingAndGlyphs">MIN</tspan><tspan x="314.4">=</tspan><tspan x="332.8" textLength="27.8" lengthAdjust="spacingAndGlyphs">−2.94</tspan><tspan x="371.4" textLength="18" lengthAdjust="spacingAndGlyphs">MAX</tspan><tspan x="395.4">=</tspan><tspan x="417.5" textLength="21" lengthAdjust="spacingAndGlyphs">9.35</tspan></text>
<rect x="175.50" y="298.30" width="23.81" height="6.3" fill="#000096" stroke="#111" stroke-width="0.6"/>
<rect x="199.31" y="298.30" width="23.81" height="6.3" fill="#0523be" stroke="#111" stroke-width="0.6"/>
<rect x="223.12" y="298.30" width="23.81" height="6.3" fill="#0537e6" stroke="#111" stroke-width="0.6"/>
<rect x="246.94" y="298.30" width="23.81" height="6.3" fill="#1955ff" stroke="#111" stroke-width="0.6"/>
<rect x="270.75" y="298.30" width="23.81" height="6.3" fill="#4178fa" stroke="#111" stroke-width="0.6"/>
<rect x="294.56" y="298.30" width="23.81" height="6.3" fill="#82aaff" stroke="#111" stroke-width="0.6"/>
<rect x="318.38" y="298.30" width="23.81" height="6.3" fill="#b4cdff" stroke="#111" stroke-width="0.6"/>
<rect x="342.19" y="298.30" width="23.81" height="6.3" fill="#dceeff" stroke="#111" stroke-width="0.6"/>
<rect x="366.00" y="298.30" width="23.81" height="6.3" fill="#ffe8d7" stroke="#111" stroke-width="0.6"/>
<rect x="389.81" y="298.30" width="23.81" height="6.3" fill="#ffc8af" stroke="#111" stroke-width="0.6"/>
<rect x="413.62" y="298.30" width="23.81" height="6.3" fill="#ffa57d" stroke="#111" stroke-width="0.6"/>
<rect x="437.44" y="298.30" width="23.81" height="6.3" fill="#ff7841" stroke="#111" stroke-width="0.6"/>
<rect x="461.25" y="298.30" width="23.81" height="6.3" fill="#ff5519" stroke="#111" stroke-width="0.6"/>
<rect x="485.06" y="298.30" width="23.81" height="6.3" fill="#e63205" stroke="#111" stroke-width="0.6"/>
<rect x="508.88" y="298.30" width="23.81" height="6.3" fill="#c32305" stroke="#111" stroke-width="0.6"/>
<rect x="532.69" y="298.30" width="23.81" height="6.3" fill="#8c0000" stroke="#111" stroke-width="0.6"/>
<text transform="translate(199.31 315.50) scale(1.1 1)" text-anchor="middle" class="cb">−6</text>
<text transform="translate(246.94 315.50) scale(1.1 1)" text-anchor="middle" class="cb">−4</text>
<text transform="translate(294.56 315.50) scale(1.1 1)" text-anchor="middle" class="cb">−2</text>
<text transform="translate(342.19 315.50) scale(1.1 1)" text-anchor="middle" class="cb">−0.5</text>
<text transform="translate(389.81 315.50) scale(1.1 1)" text-anchor="middle" class="cb">0.5</text>
<text transform="translate(437.44 315.50) scale(1.1 1)" text-anchor="middle" class="cb">2</text>
<text transform="translate(485.06 315.50) scale(1.1 1)" text-anchor="middle" class="cb">4</text>
<text transform="translate(532.69 315.50) scale(1.1 1)" text-anchor="middle" class="cb">6</text>
</g>
<g id="panel1">
<g clip-path="url(#clip1)">
<g filter="url(#b1)"><rect x="171.2" y="380.5" width="389.40000000000003" height="155.0" fill="#ffe8d7"/>
<path d="M188.0 360.0C180.9 363.4 187.6 371.8 188.0 380.5C188.4 389.2 190.5 403.8 190.5 412.5C190.5 421.1 189.2 428.3 188.0 432.4C186.7 436.6 184.7 437.0 183.0 437.4C181.3 437.8 179.5 433.7 178.0 434.9C176.5 436.2 175.5 442.4 174.2 444.9C173.0 447.4 171.1 434.9 170.5 449.9C169.9 464.9 160.1 520.7 170.5 534.8C180.9 548.9 222.7 539.8 232.9 534.8C243.2 529.8 232.3 519.0 231.9 504.8C231.6 490.7 231.2 470.6 230.9 449.9C230.7 429.2 230.5 395.5 230.4 380.5C230.3 365.5 237.5 363.4 230.4 360.0C223.4 356.6 195.1 356.6 188.0 360.0Z" fill="#ffc8af"/>
<path d="M170.5 360.0C170.5 349.1 167.3 377.1 170.5 380.5C173.7 383.9 186.1 376.8 189.5 380.5C192.9 384.2 191.1 395.1 191.0 402.5C190.9 409.9 190.0 419.9 189.0 424.9C188.0 430.0 186.4 432.3 185.0 432.9C183.6 433.6 181.9 427.9 180.5 428.7C179.1 429.4 178.2 434.5 176.5 437.4C174.8 440.3 171.5 459.1 170.5 446.2C169.5 433.3 170.5 371.0 170.5 360.0Z" fill="#dceeff"/>
<path d="M170.5 380.5C171.3 373.1 174.7 376.4 175.5 380.5C176.2 384.6 175.8 397.6 175.0 405.0C174.2 412.4 171.3 429.0 170.5 424.9C169.8 420.9 169.7 387.9 170.5 380.5Z" fill="#b4cdff"/>
<ellipse cx="186.0" cy="412.5" rx="1.5" ry="7.0" fill="#b4cdff"/>
<path d="M185.5 479.9C186.7 475.7 190.5 474.9 193.0 474.9C195.5 474.9 198.9 476.5 200.5 479.9C202.0 483.2 202.9 489.9 202.5 494.9C202.0 499.8 200.0 507.1 198.0 509.8C196.0 512.5 192.6 512.7 190.5 511.1C188.4 509.4 186.3 505.0 185.5 499.8C184.7 494.6 184.2 484.0 185.5 479.9Z" fill="#ffe8d7"/>
<path d="M191.7 492.4C192.7 490.3 196.2 488.2 198.0 488.6C199.8 489.0 202.0 492.1 202.5 494.9C203.0 497.6 202.1 502.8 201.0 504.8C199.8 506.9 197.0 508.0 195.5 507.3C194.0 506.7 192.6 503.6 192.0 501.1C191.4 498.6 190.7 494.4 191.7 492.4Z" fill="#dceeff"/>
<ellipse cx="186.7" cy="489.9" rx="1.5" ry="2.0" fill="#dceeff"/>
<path d="M170.5 494.9C171.8 489.0 176.3 496.5 178.0 499.8C179.7 503.2 180.5 509.0 180.5 514.8C180.5 520.7 179.7 531.5 178.0 534.8C176.3 538.1 171.8 541.5 170.5 534.8C169.3 528.1 169.3 500.7 170.5 494.9Z" fill="#ffe8d7"/>
<path d="M178.5 444.9C179.5 440.3 182.2 435.3 183.5 437.4C184.7 439.5 185.7 449.5 186.0 457.4C186.3 465.3 186.0 476.1 185.5 484.9C185.0 493.6 182.9 503.2 183.0 509.8C183.1 516.5 186.0 520.7 186.0 524.8C186.0 529.0 184.2 534.8 183.0 534.8C181.8 534.8 180.0 531.5 179.0 524.8C178.0 518.2 177.2 504.8 177.0 494.9C176.7 484.9 177.2 473.2 177.5 464.9C177.7 456.6 177.5 449.5 178.5 444.9Z" fill="#ffa57d"/>
<path d="M192.5 432.4C193.5 425.4 196.4 423.7 198.0 422.4C199.6 421.2 201.1 420.4 202.0 424.9C202.8 429.5 203.1 441.6 203.0 449.9C202.8 458.2 202.2 469.9 201.0 474.9C199.7 479.9 197.0 481.5 195.5 479.9C194.0 478.2 192.5 472.8 192.0 464.9C191.5 457.0 191.5 439.5 192.5 432.4Z" fill="#ffa57d"/>
<path d="M201.0 390.0C201.6 379.2 204.8 379.2 206.0 385.0C207.1 390.8 207.2 410.8 208.0 424.9C208.7 439.1 209.2 458.6 210.5 469.9C211.7 481.1 213.5 483.2 215.4 492.4C217.4 501.5 221.3 517.7 221.9 524.8C222.6 531.9 221.1 536.5 219.2 534.8C217.3 533.1 212.8 523.1 210.5 514.8C208.1 506.5 206.4 495.7 205.0 484.9C203.5 474.0 202.6 465.7 202.0 449.9C201.3 434.1 200.3 400.8 201.0 390.0Z" fill="#ffa57d"/>
<path d="M203.5 385.0C203.8 385.0 204.5 402.9 204.8 411.8C205.2 420.8 205.3 429.7 205.5 438.7C205.6 447.6 205.7 456.6 205.6 465.5C205.5 474.5 205.3 492.4 205.0 492.4C204.6 492.4 203.9 474.5 203.6 465.5C203.3 456.6 203.1 447.6 203.0 438.7C202.8 429.7 202.8 420.8 202.8 411.8C202.9 402.9 203.1 385.0 203.5 385.0Z" fill="#ff7841"/>
<path d="M203.5 412.5C203.6 412.5 203.9 419.9 204.1 423.7C204.2 427.4 204.3 431.2 204.3 434.9C204.4 438.7 204.4 442.4 204.3 446.2C204.3 449.9 204.1 457.4 204.0 457.4C203.8 457.4 203.5 449.9 203.3 446.2C203.2 442.4 203.1 438.7 203.1 434.9C203.0 431.2 203.0 427.4 203.1 423.7C203.1 419.9 203.3 412.5 203.5 412.5Z" fill="#ff5519"/>
<path d="M210.0 457.4C210.5 455.7 212.0 467.8 213.0 474.9C213.9 481.9 214.8 491.5 215.9 499.8C217.1 508.2 219.8 519.8 219.9 524.8C220.1 529.8 218.2 532.3 216.9 529.8C215.7 527.3 213.6 517.3 212.5 509.8C211.3 502.3 210.4 493.6 210.0 484.9C209.5 476.1 209.5 459.1 210.0 457.4Z" fill="#ff7841"/>
<path d="M211.0 479.9C211.1 477.8 212.6 487.4 213.4 492.4C214.3 497.3 215.2 504.4 215.9 509.8C216.7 515.2 218.0 522.3 217.9 524.8C217.9 527.3 216.4 528.1 215.4 524.8C214.5 521.5 213.2 512.3 212.5 504.8C211.7 497.3 210.8 481.9 211.0 479.9Z" fill="#ff5519"/>
<path d="M210.7 487.9C210.8 485.7 211.8 488.7 212.5 492.4C213.1 496.0 214.2 506.2 214.4 509.8C214.7 513.5 214.4 515.1 213.9 514.3C213.5 513.6 212.2 509.7 211.7 505.3C211.2 500.9 210.6 490.0 210.7 487.9Z" fill="#e63205"/>
<path d="M183.0 511.1C183.7 509.0 185.7 508.6 186.5 509.8C187.2 511.1 187.6 515.9 187.5 518.6C187.3 521.3 186.3 525.4 185.5 526.1C184.7 526.7 182.9 524.8 182.5 522.3C182.1 519.8 182.3 513.2 183.0 511.1Z" fill="#ff7841"/>
<path d="M210.0 360.0C206.7 363.4 209.8 371.8 210.0 380.5C210.1 389.2 210.5 400.9 211.0 412.5C211.5 424.0 211.9 437.8 213.0 449.9C214.0 462.0 215.9 474.0 217.4 484.9C218.9 495.7 220.6 509.0 221.9 514.8C223.3 520.7 224.4 520.7 225.4 519.8C226.5 519.0 227.8 517.3 228.4 509.8C229.1 502.3 229.2 489.0 229.4 474.9C229.7 460.7 229.9 440.7 229.9 424.9C229.9 409.2 229.5 391.3 229.4 380.5C229.3 369.7 232.7 363.4 229.4 360.0C226.2 356.6 213.2 356.6 210.0 360.0Z" fill="#dceeff"/>
<path d="M214.9 360.0C213.4 363.4 214.9 371.8 214.9 380.5C215.0 389.2 215.1 400.9 215.4 412.5C215.8 424.0 216.2 438.7 216.9 449.9C217.7 461.1 218.9 470.3 219.9 479.9C220.9 489.4 222.1 502.5 222.9 507.3C223.8 512.1 224.5 512.7 224.9 508.6C225.4 504.4 225.6 494.2 225.7 482.4C225.7 470.5 225.4 451.2 225.2 437.4C225.0 423.7 224.9 409.5 224.7 400.0C224.5 390.5 224.3 387.2 224.2 380.5C224.1 373.8 225.7 363.4 224.2 360.0C222.6 356.6 216.5 356.6 214.9 360.0Z" fill="#b4cdff"/>
<path d="M216.9 402.5C217.4 398.9 218.6 395.8 219.4 396.2C220.3 396.6 221.4 400.6 221.9 405.0C222.4 409.3 222.6 417.7 222.4 422.4C222.3 427.2 221.6 432.2 220.9 433.7C220.3 435.1 219.1 433.9 218.4 431.2C217.8 428.5 217.2 422.2 216.9 417.4C216.7 412.7 216.5 406.0 216.9 402.5Z" fill="#82aaff"/>
<path d="M229.9 360.0C206.2 363.4 229.8 365.5 229.9 380.5C230.0 395.5 230.3 430.8 230.4 449.9C230.6 469.0 229.8 486.2 230.9 494.9C232.1 503.5 234.6 503.1 237.4 501.8C240.2 500.6 244.7 488.5 247.9 487.4C251.1 486.2 253.6 492.3 256.6 494.9C259.6 497.4 262.7 500.6 265.9 502.8C269.1 505.1 273.5 505.8 275.9 508.6C278.3 511.4 279.1 517.1 280.4 519.8C281.6 522.5 282.3 525.6 283.4 524.8C284.4 524.0 285.4 518.2 286.6 514.8C287.8 511.5 289.1 504.0 290.4 504.8C291.6 505.7 292.9 515.4 293.8 519.8C294.8 524.2 295.2 530.6 295.8 531.1C296.5 531.5 297.1 526.7 297.8 522.3C298.6 517.9 299.6 504.8 300.3 504.8C301.1 504.8 301.8 517.9 302.3 522.3C302.9 526.7 303.2 531.9 303.8 531.1C304.5 530.2 305.3 522.5 306.3 517.3C307.3 512.1 308.2 503.6 309.8 499.8C311.4 496.1 314.2 492.8 315.8 494.9C317.4 496.9 318.4 507.3 319.3 512.3C320.2 517.3 320.6 524.8 321.3 524.8C322.1 524.8 322.8 516.9 323.8 512.3C324.8 507.8 325.0 498.8 327.3 497.3C329.6 495.9 334.4 501.9 337.8 503.6C341.2 505.3 344.7 506.7 347.8 507.3C350.8 508.0 353.4 508.6 356.0 507.3C358.6 506.1 360.9 505.3 363.5 499.8C366.1 494.4 369.7 483.2 371.5 474.9C373.2 466.6 373.7 460.3 374.0 449.9C374.2 439.5 373.2 424.0 373.0 412.5C372.7 400.9 372.6 389.2 372.5 380.5C372.4 371.8 396.2 363.4 372.5 360.0C348.7 356.6 253.7 356.6 229.9 360.0Z" fill="#ffc8af"/>
<path d="M252.9 360.0C233.9 363.4 253.0 371.8 252.9 380.5C252.8 389.2 252.0 402.5 252.4 412.5C252.8 422.4 254.1 433.3 255.4 439.9C256.7 446.6 257.5 449.3 260.4 452.4C263.3 455.5 270.0 454.1 272.9 458.6C275.7 463.2 276.2 471.3 277.4 479.9C278.5 488.4 279.0 503.4 279.9 509.8C280.8 516.3 281.9 519.4 282.9 518.6C283.9 517.7 284.6 509.2 285.9 504.8C287.1 500.5 289.0 490.7 290.4 492.4C291.7 494.0 292.9 509.0 293.8 514.8C294.8 520.7 295.2 527.3 295.8 527.3C296.5 527.3 297.1 520.7 297.8 514.8C298.6 509.0 299.6 492.4 300.3 492.4C301.1 492.4 301.8 509.2 302.3 514.8C302.9 520.4 303.3 526.9 303.8 526.1C304.4 525.2 305.0 516.3 305.8 509.8C306.7 503.4 307.5 491.9 309.1 487.4C310.7 482.8 313.6 479.5 315.3 482.4C317.0 485.3 318.3 498.8 319.3 504.8C320.3 510.9 320.6 518.6 321.3 518.6C322.0 518.6 322.4 510.5 323.3 504.8C324.2 499.2 324.1 486.9 326.6 484.9C329.0 482.8 334.3 490.5 337.8 492.4C341.3 494.2 344.7 495.3 347.8 496.1C350.8 496.9 353.8 498.0 356.0 497.3C358.2 496.7 359.3 496.1 361.0 492.4C362.7 488.6 364.7 481.9 366.0 474.9C367.2 467.8 368.2 460.3 368.5 449.9C368.7 439.5 367.7 424.0 367.5 412.5C367.2 400.9 367.1 389.2 367.0 380.5C366.9 371.8 386.0 363.4 367.0 360.0C348.0 356.6 271.9 356.6 252.9 360.0Z" fill="#ffa57d"/>
<path d="M265.9 415.0C266.3 410.4 267.5 406.2 269.1 402.5C270.7 398.7 273.1 395.0 275.4 392.5C277.7 390.0 279.9 387.9 282.9 387.5C285.8 387.1 290.1 391.1 292.9 390.0C295.6 388.8 297.0 382.1 299.1 380.5C301.2 378.9 303.0 378.9 305.3 380.5C307.6 382.1 310.7 390.0 312.8 390.0C314.9 390.0 316.2 382.1 317.8 380.5C319.5 378.9 321.5 377.2 322.8 380.5C324.1 383.7 325.4 391.3 325.8 400.0C326.2 408.6 325.7 424.5 325.3 432.4C324.9 440.3 324.3 445.7 323.3 447.4C322.3 449.2 320.9 444.6 319.3 442.9C317.8 441.3 316.0 437.7 314.1 437.4C312.2 437.1 309.4 439.5 307.8 441.2C306.3 442.8 305.8 446.6 304.8 447.4C303.8 448.2 302.8 446.8 301.8 446.2C300.9 445.5 300.4 443.5 299.3 443.7C298.3 443.9 296.6 446.4 295.3 447.4C294.1 448.4 293.1 449.7 291.9 449.9C290.6 450.1 289.1 448.2 287.9 448.7C286.6 449.1 285.6 451.4 284.4 452.4C283.1 453.4 281.4 455.3 280.4 454.9C279.3 454.5 279.3 452.2 277.9 449.9C276.4 447.6 273.5 444.5 271.6 441.2C269.8 437.8 267.6 434.3 266.6 429.9C265.7 425.6 265.5 419.5 265.9 415.0Z" fill="#ff7841"/>
<path d="M295.1 442.4C295.5 442.4 296.1 452.8 296.4 458.0C296.6 463.2 296.7 468.4 296.7 473.6C296.7 478.8 296.7 484.0 296.5 489.2C296.3 494.4 295.7 504.8 295.3 504.8C294.9 504.8 294.4 494.4 294.1 489.2C293.8 484.0 293.7 478.8 293.7 473.6C293.7 468.4 293.7 463.2 294.0 458.0C294.2 452.8 294.7 442.4 295.1 442.4Z" fill="#ff7841"/>
<path d="M302.6 439.9C303.1 439.9 303.8 453.4 304.1 460.2C304.4 467.0 304.5 473.7 304.6 480.5C304.6 487.3 304.6 494.0 304.4 500.8C304.1 507.5 303.6 521.1 303.1 521.1C302.6 521.1 301.9 507.5 301.6 500.8C301.2 494.0 301.1 487.3 301.1 480.5C301.0 473.7 301.1 467.0 301.3 460.2C301.6 453.4 302.1 439.9 302.6 439.9Z" fill="#ff7841"/>
<path d="M321.1 439.9C321.5 439.9 322.3 449.5 322.6 454.3C322.9 459.1 323.0 463.8 323.1 468.6C323.1 473.4 323.1 478.2 322.8 483.0C322.6 487.8 322.0 497.3 321.6 497.3C321.1 497.3 320.4 487.8 320.0 483.0C319.7 478.2 319.6 473.4 319.6 468.6C319.5 463.8 319.5 459.1 319.8 454.3C320.0 449.5 320.6 439.9 321.1 439.9Z" fill="#ff7841"/>
<path d="M281.9 447.4C282.4 447.4 283.3 457.4 283.8 462.4C284.2 467.4 284.4 472.4 284.5 477.4C284.6 482.4 284.6 487.4 284.4 492.4C284.2 497.3 283.6 507.3 283.1 507.3C282.6 507.3 281.6 497.3 281.2 492.4C280.8 487.4 280.6 482.4 280.5 477.4C280.4 472.4 280.3 467.4 280.6 462.4C280.8 457.4 281.3 447.4 281.9 447.4Z" fill="#ff7841"/>
<path d="M287.1 447.4C287.4 447.4 288.0 453.7 288.2 456.8C288.5 459.9 288.6 463.0 288.6 466.1C288.6 469.3 288.6 472.4 288.5 475.5C288.3 478.6 287.9 484.9 287.6 484.9C287.3 484.9 286.7 478.6 286.5 475.5C286.2 472.4 286.2 469.3 286.1 466.1C286.1 463.0 286.1 459.9 286.2 456.8C286.4 453.7 286.8 447.4 287.1 447.4Z" fill="#ff7841"/>
<path d="M328.3 405.0C329.0 399.2 330.4 393.3 332.8 390.5C335.2 387.7 339.8 387.2 342.8 388.0C345.8 388.7 348.8 391.7 350.8 395.0C352.8 398.2 353.9 401.6 354.8 407.5C355.6 413.3 356.4 424.2 355.8 429.9C355.1 435.7 352.9 439.3 350.8 441.9C348.6 444.5 345.8 445.9 342.8 445.7C339.8 445.4 335.1 443.9 332.8 440.4C330.5 437.0 329.6 430.8 328.8 424.9C328.1 419.0 327.6 410.7 328.3 405.0Z" fill="#ff7841"/>
<path d="M279.1 410.0C279.7 410.0 280.8 418.3 281.4 422.4C281.9 426.6 282.1 430.8 282.2 434.9C282.4 439.1 282.5 443.2 282.2 447.4C282.0 451.6 281.5 459.9 280.9 459.9C280.3 459.9 279.2 451.6 278.6 447.4C278.1 443.2 277.9 439.1 277.7 434.9C277.6 430.8 277.5 426.6 277.8 422.4C278.0 418.3 278.5 410.0 279.1 410.0Z" fill="#ff5519"/>
<path d="M284.9 415.0C285.2 415.0 285.7 420.8 286.0 423.7C286.2 426.6 286.3 429.5 286.4 432.4C286.4 435.3 286.4 438.3 286.2 441.2C286.1 444.1 285.7 449.9 285.4 449.9C285.0 449.9 284.5 444.1 284.2 441.2C284.0 438.3 283.9 435.3 283.9 432.4C283.8 429.5 283.8 426.6 284.0 423.7C284.2 420.8 284.5 415.0 284.9 415.0Z" fill="#ff5519"/>
<path d="M294.8 419.9C295.1 419.9 295.6 426.2 295.8 429.3C296.0 432.4 296.1 435.5 296.1 438.7C296.1 441.8 296.1 444.9 296.0 448.0C295.9 451.2 295.6 457.4 295.3 457.4C295.1 457.4 294.6 451.2 294.4 448.0C294.2 444.9 294.1 441.8 294.1 438.7C294.1 435.5 294.0 432.4 294.2 429.3C294.3 426.2 294.6 419.9 294.8 419.9Z" fill="#ff5519"/>
<path d="M302.6 380.5C303.0 380.5 303.6 393.7 303.9 400.3C304.2 407.0 304.3 413.6 304.3 420.2C304.4 426.8 304.4 433.4 304.2 440.0C304.0 446.7 303.5 459.9 303.1 459.9C302.7 459.9 302.1 446.7 301.8 440.0C301.5 433.4 301.4 426.8 301.3 420.2C301.3 413.6 301.3 407.0 301.5 400.3C301.7 393.7 302.2 380.5 302.6 380.5Z" fill="#ff5519"/>
<path d="M320.8 380.5C321.2 380.5 321.8 391.6 322.1 397.2C322.4 402.8 322.5 408.4 322.6 414.0C322.6 419.5 322.6 425.1 322.4 430.7C322.2 436.3 321.7 447.4 321.3 447.4C320.9 447.4 320.3 436.3 320.0 430.7C319.7 425.1 319.6 419.5 319.6 414.0C319.5 408.4 319.5 402.8 319.7 397.2C319.9 391.6 320.4 380.5 320.8 380.5Z" fill="#ff5519"/>
<path d="M275.4 417.4C275.6 417.4 276.1 420.8 276.3 422.4C276.5 424.1 276.6 425.8 276.6 427.4C276.7 429.1 276.7 430.8 276.5 432.4C276.4 434.1 276.1 437.4 275.9 437.4C275.6 437.4 275.2 434.1 274.9 432.4C274.7 430.8 274.7 429.1 274.6 427.4C274.6 425.8 274.6 424.1 274.7 422.4C274.8 420.8 275.1 417.4 275.4 417.4Z" fill="#ff5519"/>
<path d="M231.9 504.8C234.4 500.7 242.7 499.8 247.9 499.8C253.1 499.8 258.7 503.2 262.9 504.8C267.0 506.5 270.4 506.5 272.9 509.8C275.4 513.2 282.0 521.9 277.9 524.8C273.7 527.7 255.4 527.3 247.9 527.3C240.4 527.3 235.6 528.6 232.9 524.8C230.3 521.1 229.4 509.0 231.9 504.8Z" fill="#ffe8d7"/>
<path d="M241.7 511.1C242.3 509.0 245.4 506.3 247.9 506.1C250.4 505.9 254.9 508.2 256.6 509.8C258.4 511.5 259.2 514.3 258.4 516.1C257.6 517.8 254.0 519.9 251.7 520.3C249.3 520.7 245.8 520.1 244.2 518.6C242.5 517.0 241.0 513.2 241.7 511.1Z" fill="#dceeff"/>
<path d="M269.1 514.8C269.8 512.5 272.5 509.3 274.1 509.3C275.8 509.3 278.0 512.2 279.1 514.8C280.2 517.4 281.5 522.6 280.9 524.8C280.2 527.0 277.1 528.0 275.4 527.8C273.6 527.6 271.4 525.7 270.4 523.6C269.3 521.4 268.5 517.2 269.1 514.8Z" fill="#dceeff"/>
<path d="M300.8 517.3C301.0 514.8 303.4 511.5 304.8 511.1C306.3 510.7 308.0 515.0 309.3 514.8C310.7 514.6 311.7 509.8 312.8 509.8C314.0 509.8 315.1 514.6 316.3 514.8C317.6 515.0 319.3 510.2 320.3 511.1C321.3 511.9 322.3 517.3 322.3 519.8C322.3 522.3 321.9 524.8 320.3 526.1C318.7 527.3 315.6 527.3 312.8 527.3C310.1 527.4 305.8 528.0 303.8 526.3C301.8 524.6 300.7 519.9 300.8 517.3Z" fill="#dceeff"/>
<path d="M325.3 514.8C325.6 512.1 327.8 509.6 329.1 509.8C330.3 510.0 332.3 513.6 332.8 516.1C333.3 518.6 332.7 523.1 331.8 524.8C330.9 526.5 328.4 527.7 327.3 526.1C326.2 524.4 325.0 517.5 325.3 514.8Z" fill="#dceeff"/>
<ellipse cx="289.1" cy="519.3" rx="1.5" ry="4.0" fill="#dceeff"/>
<path d="M231.9 526.8L362.8 526.8L362.8 534.8L231.9 534.8Z" fill="#ffc8af"/>
<path d="M380.5 360.0C364.9 363.4 380.1 369.7 380.5 380.5C380.9 391.3 381.9 410.0 383.0 424.9C384.0 439.8 388.9 457.4 387.0 469.9C385.0 482.4 375.1 492.9 371.5 499.8C367.9 506.8 365.6 508.6 365.5 511.8C365.4 515.1 364.2 517.8 371.0 519.3C377.7 520.9 394.7 521.0 405.9 521.1C417.2 521.2 430.1 520.9 438.4 519.8C446.7 518.8 451.3 515.0 455.9 514.8C460.5 514.6 462.9 516.9 465.9 518.6C468.9 520.2 472.5 547.8 473.9 524.8C475.2 501.8 473.9 408.0 473.9 380.5C473.9 353.0 489.4 363.4 473.9 360.0C458.3 356.6 396.0 356.6 380.5 360.0Z" fill="#dceeff"/>
<path d="M399.4 360.0C389.6 363.4 399.2 369.7 399.4 380.5C399.7 391.3 400.1 409.2 400.9 424.9C401.8 440.7 406.1 463.6 404.4 474.9C402.8 486.1 395.3 487.8 391.0 492.4C386.6 496.9 380.6 499.4 378.5 502.3C376.3 505.3 375.9 507.7 378.0 509.8C380.1 512.0 382.1 514.4 391.0 515.3C399.8 516.2 420.9 516.2 430.9 515.3C440.9 514.5 446.6 512.9 450.9 510.3C455.1 507.8 457.1 504.5 456.4 499.8C455.6 495.2 448.3 487.4 446.4 482.4C444.5 477.4 443.3 477.4 444.9 469.9C446.5 462.4 453.6 449.1 455.9 437.4C458.1 425.8 458.0 409.5 458.4 400.0C458.8 390.5 458.4 387.2 458.4 380.5C458.4 373.8 468.2 363.4 458.4 360.0C448.6 356.6 409.3 356.6 399.4 360.0Z" fill="#b4cdff"/>
<path d="M440.9 411.2C443.6 410.4 445.7 410.2 447.1 412.5C448.6 414.7 449.8 419.5 449.6 424.9C449.4 430.3 448.2 438.9 445.9 444.9C443.6 450.9 439.6 458.2 435.9 461.1C432.2 464.1 426.7 464.7 423.4 462.4C420.2 460.1 416.8 452.4 416.4 447.4C416.0 442.4 418.5 437.4 420.9 432.4C423.3 427.4 427.6 421.0 430.9 417.4C434.2 413.9 438.2 412.0 440.9 411.2Z" fill="#82aaff"/>
<path d="M388.0 505.3C389.2 502.4 395.5 496.0 400.9 492.9C406.4 489.7 415.1 486.9 420.9 486.4C426.7 485.9 431.7 487.6 435.9 489.9C440.1 492.1 444.0 497.1 445.9 499.8C447.8 502.6 449.9 504.4 447.4 506.3C444.9 508.3 437.8 510.2 430.9 511.3C424.0 512.4 412.2 513.0 405.9 512.8C399.7 512.7 396.4 511.6 393.5 510.3C390.5 509.1 386.7 508.3 388.0 505.3Z" fill="#82aaff"/>
<path d="M461.4 360.0C460.4 363.4 461.5 369.7 461.4 380.5C461.2 391.3 461.3 412.1 460.4 424.9C459.5 437.8 456.8 448.2 455.9 457.4C455.0 466.6 454.0 472.0 454.9 479.9C455.7 487.8 459.5 495.7 460.9 504.8C462.3 514.0 462.3 529.8 463.4 534.8C464.4 539.8 466.5 539.8 467.4 534.8C468.2 529.8 468.3 517.7 468.4 504.8C468.4 491.9 468.0 478.1 467.9 457.4C467.7 436.7 467.4 396.7 467.4 380.5C467.3 364.3 468.4 363.4 467.4 360.0C466.4 356.6 462.4 356.6 461.4 360.0Z" fill="#ffe8d7"/>
<path d="M463.9 419.9C464.5 419.9 465.4 435.8 465.9 443.7C466.3 451.6 466.4 459.5 466.4 467.4C466.4 475.3 466.3 483.2 465.9 491.1C465.4 499.0 464.5 514.8 463.9 514.8C463.2 514.8 462.3 499.0 461.9 491.1C461.5 483.2 461.4 475.3 461.4 467.4C461.4 459.5 461.5 451.6 461.9 443.7C462.3 435.8 463.2 419.9 463.9 419.9Z" fill="#ffc8af"/>
<path d="M463.9 444.9C464.2 444.9 464.7 453.2 464.9 457.4C465.1 461.6 465.1 465.7 465.1 469.9C465.1 474.0 465.1 478.2 464.9 482.4C464.7 486.5 464.2 494.9 463.9 494.9C463.5 494.9 463.1 486.5 462.9 482.4C462.7 478.2 462.6 474.0 462.6 469.9C462.6 465.7 462.7 461.6 462.9 457.4C463.1 453.2 463.5 444.9 463.9 444.9Z" fill="#ffa57d"/>
<ellipse cx="470.4" cy="511.3" rx="1.7" ry="4.0" fill="#82aaff"/>
<path d="M351.0 514.8C353.5 512.1 356.8 517.2 366.0 518.6C375.1 519.9 393.9 522.3 405.9 522.8C418.0 523.4 430.1 522.6 438.4 521.8C446.7 521.0 451.3 517.9 455.9 517.8C460.5 517.7 462.9 519.9 465.9 521.1C468.8 522.2 472.1 522.5 473.4 524.8C474.6 527.1 493.7 533.1 473.4 534.8C453.0 536.5 371.4 538.1 351.0 534.8C330.6 531.5 348.5 517.5 351.0 514.8Z" fill="#ffe8d7"/>
<path d="M351.0 522.3C356.0 520.8 369.7 525.1 381.0 525.8C392.2 526.5 408.4 526.5 418.4 526.3C428.4 526.1 434.7 525.5 440.9 524.8C447.1 524.1 450.5 522.1 455.9 522.3C461.3 522.5 470.4 524.0 473.4 526.1C476.3 528.1 493.7 533.3 473.4 534.8C453.0 536.3 371.4 536.9 351.0 534.8C330.6 532.7 346.0 523.8 351.0 522.3Z" fill="#ffc8af"/>
<path d="M448.4 527.8C450.5 526.1 456.7 525.1 460.9 524.8C465.0 524.6 471.3 524.6 473.4 526.3C475.4 528.0 477.5 533.4 473.4 534.8C469.2 536.2 452.5 536.0 448.4 534.8C444.2 533.6 446.3 529.5 448.4 527.8Z" fill="#ffa57d"/>
<path d="M472.9 360.0C463.1 363.4 472.8 365.5 472.9 380.5C472.9 395.5 473.4 424.2 473.4 449.9C473.4 475.6 461.9 520.7 472.9 534.8C483.8 548.9 528.3 539.8 538.9 534.8C549.5 529.8 537.3 514.8 536.4 504.8C535.6 494.9 534.4 486.1 533.7 474.9C532.9 463.6 532.4 453.2 531.9 437.4C531.5 421.7 531.3 393.4 531.2 380.5C531.1 367.6 540.9 363.4 531.2 360.0C521.5 356.6 482.6 356.6 472.9 360.0Z" fill="#ffc8af"/>
<path d="M473.9 360.0C464.8 363.4 473.8 365.5 473.9 380.5C473.9 395.5 474.4 424.2 474.4 449.9C474.4 475.6 464.0 520.7 473.9 534.8C483.7 548.9 524.0 539.8 533.7 534.8C543.4 529.8 532.6 514.8 531.9 504.8C531.3 494.9 530.4 486.1 529.9 474.9C529.4 463.6 529.3 453.2 528.9 437.4C528.6 421.7 528.1 393.4 527.9 380.5C527.8 367.6 537.0 363.4 527.9 360.0C518.9 356.6 482.9 356.6 473.9 360.0Z" fill="#ffa57d"/>
<path d="M478.3 405.0C478.8 396.6 480.4 392.9 482.1 390.0C483.8 387.1 486.5 385.0 488.3 387.5C490.1 390.0 492.0 396.6 492.8 405.0C493.7 413.3 493.7 426.6 493.3 437.4C493.0 448.2 491.9 462.8 490.8 469.9C489.8 477.0 488.4 479.9 487.1 479.9C485.8 479.9 484.1 476.5 482.8 469.9C481.6 463.2 480.1 450.7 479.3 439.9C478.6 429.1 477.9 413.3 478.3 405.0Z" fill="#ff7841"/>
<path d="M497.1 412.5C497.5 412.5 498.1 426.2 498.5 433.1C498.8 439.9 498.9 446.8 498.9 453.7C499.0 460.5 499.0 467.4 498.8 474.3C498.6 481.1 498.2 494.9 497.8 494.9C497.4 494.9 496.7 481.1 496.4 474.3C496.1 467.4 496.0 460.5 496.0 453.7C495.9 446.8 495.9 439.9 496.1 433.1C496.2 426.2 496.7 412.5 497.1 412.5Z" fill="#ff7841"/>
<path d="M506.3 386.2C506.8 386.2 507.7 409.3 508.0 420.9C508.4 432.4 508.5 444.0 508.6 455.5C508.6 467.1 508.6 478.6 508.3 490.2C508.0 501.7 507.3 524.8 506.8 524.8C506.3 524.8 505.5 501.7 505.1 490.2C504.7 478.6 504.6 467.1 504.6 455.5C504.5 444.0 504.5 432.4 504.8 420.9C505.1 409.3 505.8 386.2 506.3 386.2Z" fill="#ff7841"/>
<path d="M513.8 406.2C514.3 406.2 515.0 413.9 515.3 417.8C515.7 421.6 515.8 425.5 515.8 429.3C515.8 433.2 515.8 437.0 515.6 440.9C515.3 444.7 514.8 452.4 514.3 452.4C513.8 452.4 513.1 444.7 512.8 440.9C512.4 437.0 512.3 433.2 512.3 429.3C512.3 425.5 512.3 421.6 512.5 417.8C512.8 413.9 513.3 406.2 513.8 406.2Z" fill="#ff7841"/>
<path d="M517.8 424.9C518.4 419.1 520.0 415.0 521.3 415.0C522.6 415.0 524.5 417.9 525.8 424.9C527.0 432.0 528.2 446.6 528.8 457.4C529.4 468.2 529.8 481.9 529.5 489.9C529.2 497.8 528.2 502.8 527.0 504.8C525.9 506.9 524.0 506.5 522.8 502.3C521.5 498.2 520.4 488.6 519.5 479.9C518.7 471.1 518.1 459.1 517.8 449.9C517.5 440.8 517.2 430.8 517.8 424.9Z" fill="#ff7841"/>
<path d="M474.9 449.9C475.5 438.3 477.8 448.7 478.8 454.9C479.8 461.1 480.7 475.7 480.8 487.4C481.0 499.0 480.8 518.6 479.8 524.8C478.8 531.1 475.7 537.3 474.9 524.8C474.0 512.3 474.2 461.6 474.9 449.9Z" fill="#ff7841"/>
<path d="M496.5 419.9C496.9 419.9 497.7 435.8 498.0 443.7C498.3 451.6 498.4 459.5 498.5 467.4C498.5 475.3 498.5 483.2 498.3 491.1C498.0 499.0 497.4 514.8 497.0 514.8C496.5 514.8 495.8 499.0 495.5 491.1C495.1 483.2 495.0 475.3 495.0 467.4C494.9 459.5 495.0 451.6 495.2 443.7C495.5 435.8 496.0 419.9 496.5 419.9Z" fill="#ff7841"/>
<path d="M506.2 387.5C506.9 387.5 507.9 406.2 508.4 415.6C508.9 424.9 509.0 434.3 509.1 443.7C509.2 453.0 509.1 462.4 508.8 471.8C508.4 481.1 507.6 499.8 507.0 499.8C506.3 499.8 505.3 481.1 504.8 471.8C504.3 462.4 504.2 453.0 504.1 443.7C504.0 434.3 504.1 424.9 504.4 415.6C504.8 406.2 505.6 387.5 506.2 387.5Z" fill="#ff7841"/>
<path d="M512.5 407.5C512.8 407.5 513.3 413.7 513.5 416.8C513.7 419.9 513.7 423.1 513.7 426.2C513.7 429.3 513.7 432.4 513.5 435.5C513.3 438.7 512.8 444.9 512.5 444.9C512.1 444.9 511.7 438.7 511.5 435.5C511.3 432.4 511.2 429.3 511.2 426.2C511.2 423.1 511.3 419.9 511.5 416.8C511.7 413.7 512.1 407.5 512.5 407.5Z" fill="#ff7841"/>
<path d="M516.5 424.9C517.0 418.7 518.7 412.5 520.0 412.5C521.2 412.5 522.7 417.4 523.9 424.9C525.2 432.4 526.6 446.6 527.4 457.4C528.3 468.2 529.1 481.7 528.9 489.9C528.8 498.0 527.6 503.8 526.4 506.1C525.3 508.4 523.3 508.0 521.9 503.6C520.6 499.2 519.4 488.8 518.5 479.9C517.5 470.9 516.8 459.1 516.5 449.9C516.1 440.8 515.9 431.2 516.5 424.9Z" fill="#ff7841"/>
<path d="M486.3 388.7C486.8 388.7 487.5 400.6 487.9 406.5C488.2 412.5 488.3 418.4 488.3 424.3C488.4 430.2 488.4 436.2 488.1 442.1C487.9 448.0 487.3 459.9 486.8 459.9C486.4 459.9 485.6 448.0 485.3 442.1C485.0 436.2 484.9 430.2 484.8 424.3C484.8 418.4 484.8 412.5 485.1 406.5C485.3 400.6 485.9 388.7 486.3 388.7Z" fill="#ff5519"/>
<path d="M476.8 449.9C477.2 449.9 477.7 462.8 478.0 469.3C478.2 475.7 478.3 482.2 478.3 488.6C478.4 495.1 478.4 501.5 478.2 508.0C478.1 514.4 477.7 527.3 477.3 527.3C477.0 527.3 476.5 514.4 476.2 508.0C476.0 501.5 475.9 495.1 475.9 488.6C475.8 482.2 475.8 475.7 476.0 469.3C476.1 462.8 476.5 449.9 476.8 449.9Z" fill="#ff5519"/>
<path d="M476.6 459.9C476.8 459.9 477.2 469.0 477.4 473.6C477.5 478.2 477.6 482.8 477.6 487.4C477.6 491.9 477.6 496.5 477.5 501.1C477.4 505.7 477.1 514.8 476.8 514.8C476.6 514.8 476.3 505.7 476.1 501.1C475.9 496.5 475.9 491.9 475.9 487.4C475.8 482.8 475.8 478.2 476.0 473.6C476.1 469.0 476.4 459.9 476.6 459.9Z" fill="#e63205"/>
<path d="M476.1 467.4C476.3 467.4 476.6 471.1 476.8 473.0C476.9 474.9 477.0 476.7 477.0 478.6C477.0 480.5 477.0 482.4 476.9 484.2C476.8 486.1 476.5 489.9 476.3 489.9C476.1 489.9 475.8 486.1 475.7 484.2C475.5 482.4 475.5 480.5 475.5 478.6C475.5 476.7 475.5 474.9 475.6 473.0C475.7 471.1 475.9 467.4 476.1 467.4Z" fill="#c32305"/>
<path d="M478.8 506.1C479.3 503.0 481.3 501.3 482.8 501.1C484.4 500.9 487.2 502.1 488.3 504.8C489.5 507.5 490.3 514.4 489.8 517.3C489.3 520.2 487.0 522.0 485.3 522.3C483.7 522.6 480.9 522.0 479.8 519.3C478.8 516.6 478.3 509.1 478.8 506.1Z" fill="#ffe8d7"/>
<ellipse cx="478.3" cy="511.3" rx="1.2" ry="3.7" fill="#82aaff"/>
<ellipse cx="485.1" cy="513.8" rx="1.5" ry="4.2" fill="#82aaff"/>
<path d="M515.8 522.3C517.5 521.9 521.6 523.7 525.8 523.8C529.9 523.9 538.3 522.1 540.8 522.8C543.3 523.5 543.3 526.9 540.8 527.8C538.3 528.7 529.9 528.6 525.8 528.3C521.6 528.1 517.5 527.3 515.8 526.3C514.1 525.3 514.1 522.7 515.8 522.3Z" fill="#ffe8d7"/>
<path d="M533.4 360.0C528.6 363.4 533.2 371.8 533.4 380.5C533.7 389.2 534.2 401.7 534.9 412.5C535.7 423.2 536.7 437.0 537.9 444.9C539.2 452.8 541.2 454.9 542.4 459.9C543.7 464.9 544.2 474.0 545.4 474.9C546.7 475.7 548.3 467.8 549.9 464.9C551.5 462.0 552.8 459.3 554.9 457.4C557.0 455.5 561.1 469.9 562.4 453.7C563.6 437.4 567.2 375.6 562.4 360.0C557.6 344.4 538.3 356.6 533.4 360.0Z" fill="#dceeff"/>
<path d="M536.9 360.0C532.7 363.4 537.2 373.8 536.9 380.5C536.7 387.2 535.5 392.6 535.4 400.0C535.3 407.4 535.7 417.9 536.4 424.9C537.2 432.0 538.4 437.6 539.9 442.4C541.4 447.2 543.3 452.4 545.4 453.7C547.5 454.9 550.3 451.8 552.4 449.9C554.5 448.0 556.2 444.0 557.9 442.4C559.6 440.8 561.6 454.2 562.4 440.4C563.1 426.7 566.6 373.4 562.4 360.0C558.2 346.6 541.2 356.6 536.9 360.0Z" fill="#b4cdff"/>
<path d="M545.4 385.0C547.3 382.6 549.6 381.2 552.4 380.5C555.2 379.7 560.7 371.4 562.4 380.5C564.1 389.6 564.0 424.8 562.4 434.9C560.8 445.1 555.7 440.6 552.9 441.4C550.1 442.2 547.6 441.8 545.4 439.9C543.3 438.0 541.2 434.5 539.9 429.9C538.7 425.4 537.8 418.3 537.9 412.5C538.1 406.6 539.7 399.6 540.9 395.0C542.2 390.4 543.5 387.4 545.4 385.0Z" fill="#82aaff"/>
<path d="M542.4 492.4C542.8 488.0 545.3 482.8 547.4 481.1C549.5 479.5 552.4 481.3 554.9 482.4C557.4 483.4 561.1 481.7 562.4 487.4C563.6 493.0 564.1 511.5 562.4 516.1C560.7 520.7 555.2 516.3 552.4 514.8C549.6 513.4 547.1 511.1 545.4 507.3C543.8 503.6 542.1 496.7 542.4 492.4Z" fill="#dceeff"/>
<path d="M547.9 497.3C548.6 495.0 550.5 492.3 552.9 491.9C555.3 491.4 560.8 491.6 562.4 494.9C564.0 498.1 563.8 508.4 562.4 511.1C561.0 513.8 556.2 511.9 553.9 511.1C551.7 510.2 549.9 508.4 548.9 506.1C547.9 503.8 547.2 499.7 547.9 497.3Z" fill="#b4cdff"/>
<ellipse cx="553.4" cy="502.8" rx="2.7" ry="3.2" fill="#82aaff"/>
<path d="M527.4 524.8C529.9 522.5 536.6 521.5 542.4 521.1C548.2 520.7 559.1 520.0 562.4 522.3C565.7 524.6 568.2 532.7 562.4 534.8C556.6 536.9 533.3 536.5 527.4 534.8C521.6 533.1 524.9 527.1 527.4 524.8Z" fill="#ffc8af"/>
<path d="M505.0 527.8C508.3 526.4 519.1 526.3 524.9 526.3C530.8 526.3 537.4 526.4 539.9 527.8C542.4 529.2 545.8 533.6 539.9 534.8C534.1 536.0 510.8 536.0 505.0 534.8C499.1 533.6 501.6 529.2 505.0 527.8Z" fill="#ffa57d"/></g><path d="M185.4 533.1L185.4 526.0L186.3 526.0L186.3 522.4L200.1 522.4L200.1 516.7L202.7 516.7L202.7 511.7L207.0 511.7L207.0 506.6L210.4 506.6L210.4 516.7L214.1 516.7L214.1 522.4L215.9 522.4L215.9 533.1ZM295.2 533.1V527.5H297.9V533.1ZM476.8 533.1V527.5H504.9V533.1Z" fill="#000"/>
</g>
<rect x="173.2" y="382.5" width="385.40000000000003" height="150.0" fill="none" stroke="#000" stroke-width="1.3"/>
<path d="M173.20 382.5v-9.6M173.20 532.5v9.6M237.43 382.5v-9.6M237.43 532.5v9.6M301.67 382.5v-9.6M301.67 532.5v9.6M365.90 382.5v-9.6M365.90 532.5v9.6M430.13 382.5v-9.6M430.13 532.5v9.6M494.37 382.5v-9.6M494.37 532.5v9.6M173.2 382.50h-9.6M173.2 403.93h-9.6M173.2 425.36h-9.6M173.2 468.21h-9.6M173.2 500.36h-9.6M173.2 532.50h-9.6M558.6 394.40h9.6M558.6 450.90h9.6" stroke="#000" stroke-width="1.05" fill="none"/>
<path d="M205.32 382.5v-5M205.32 532.5v5M269.55 382.5v-5M269.55 532.5v5M333.78 382.5v-5M333.78 532.5v5M398.02 382.5v-5M398.02 532.5v5M462.25 382.5v-5M462.25 532.5v5M526.48 382.5v-5M526.48 532.5v5" stroke="#222" stroke-width="0.6" fill="none"/>
<text transform="translate(157.9 386.80) scale(1.15 1)" text-anchor="end" class="tk">300</text>
<text transform="translate(157.9 408.23) scale(1.15 1)" text-anchor="end" class="tk">400</text>
<text transform="translate(157.9 429.66) scale(1.15 1)" text-anchor="end" class="tk">500</text>
<text transform="translate(157.9 472.51) scale(1.15 1)" text-anchor="end" class="tk">700</text>
<text transform="translate(157.9 504.66) scale(1.15 1)" text-anchor="end" class="tk">850</text>
<text transform="translate(157.9 536.80) scale(1.15 1)" text-anchor="end" class="tk">1000</text>
<text transform="translate(573.3 398.70) scale(1.15 1)" class="tk">8</text>
<text transform="translate(573.3 455.20) scale(1.15 1)" class="tk">4</text>
<text transform="translate(173.20 556.00) scale(1.1 1)" text-anchor="middle" class="tk">0</text>
<text transform="translate(237.43 556.00) scale(1.1 1)" text-anchor="middle" class="tk">60E</text>
<text transform="translate(301.67 556.00) scale(1.1 1)" text-anchor="middle" class="tk">120E</text>
<text transform="translate(365.90 556.00) scale(1.1 1)" text-anchor="middle" class="tk">180</text>
<text transform="translate(430.13 556.00) scale(1.1 1)" text-anchor="middle" class="tk">120W</text>
<text transform="translate(494.37 556.00) scale(1.1 1)" text-anchor="middle" class="tk">60W</text>
<text transform="translate(121 517.00) rotate(-90)" class="ax" textLength="69.8" lengthAdjust="spacing">Pressure</text>
<text transform="translate(121 436.20) rotate(-90)" class="ax" textLength="39" lengthAdjust="spacing">(mb)</text>
<text transform="translate(605 506.70) rotate(-90)" class="ax" textLength="50.2" lengthAdjust="spacing">Height</text>
<text transform="translate(605 445.90) rotate(-90)" class="ax" textLength="37" lengthAdjust="spacing">(km)</text>
<text x="172" y="370.20" class="ts" textLength="140" lengthAdjust="spacing">Total diabatic heating</text>
<text x="559.6" y="370.20" text-anchor="end" class="ts" textLength="39.5" lengthAdjust="spacing">K/day</text>
<text x="365.5" y="347.50" text-anchor="middle" class="ti">f.e13.FAMIPC5.ne120_ne120.1979_2012.002 (yrs 1980-2012)</text>
<text y="564.90" class="mm"><tspan x="292.8" textLength="18" lengthAdjust="spacingAndGlyphs">MIN</tspan><tspan x="314.4">=</tspan><tspan x="332.8" textLength="27.8" lengthAdjust="spacingAndGlyphs">−1.73</tspan><tspan x="371.4" textLength="18" lengthAdjust="spacingAndGlyphs">MAX</tspan><tspan x="395.4">=</tspan><tspan x="417.5" textLength="21" lengthAdjust="spacingAndGlyphs">6.87</tspan></text>
<rect x="175.50" y="573.60" width="23.81" height="6.3" fill="#000096" stroke="#111" stroke-width="0.6"/>
<rect x="199.31" y="573.60" width="23.81" height="6.3" fill="#0523be" stroke="#111" stroke-width="0.6"/>
<rect x="223.12" y="573.60" width="23.81" height="6.3" fill="#0537e6" stroke="#111" stroke-width="0.6"/>
<rect x="246.94" y="573.60" width="23.81" height="6.3" fill="#1955ff" stroke="#111" stroke-width="0.6"/>
<rect x="270.75" y="573.60" width="23.81" height="6.3" fill="#4178fa" stroke="#111" stroke-width="0.6"/>
<rect x="294.56" y="573.60" width="23.81" height="6.3" fill="#82aaff" stroke="#111" stroke-width="0.6"/>
<rect x="318.38" y="573.60" width="23.81" height="6.3" fill="#b4cdff" stroke="#111" stroke-width="0.6"/>
<rect x="342.19" y="573.60" width="23.81" height="6.3" fill="#dceeff" stroke="#111" stroke-width="0.6"/>
<rect x="366.00" y="573.60" width="23.81" height="6.3" fill="#ffe8d7" stroke="#111" stroke-width="0.6"/>
<rect x="389.81" y="573.60" width="23.81" height="6.3" fill="#ffc8af" stroke="#111" stroke-width="0.6"/>
<rect x="413.62" y="573.60" width="23.81" height="6.3" fill="#ffa57d" stroke="#111" stroke-width="0.6"/>
<rect x="437.44" y="573.60" width="23.81" height="6.3" fill="#ff7841" stroke="#111" stroke-width="0.6"/>
<rect x="461.25" y="573.60" width="23.81" height="6.3" fill="#ff5519" stroke="#111" stroke-width="0.6"/>
<rect x="485.06" y="573.60" width="23.81" height="6.3" fill="#e63205" stroke="#111" stroke-width="0.6"/>
<rect x="508.88" y="573.60" width="23.81" height="6.3" fill="#c32305" stroke="#111" stroke-width="0.6"/>
<rect x="532.69" y="573.60" width="23.81" height="6.3" fill="#8c0000" stroke="#111" stroke-width="0.6"/>
<text transform="translate(199.31 590.80) scale(1.1 1)" text-anchor="middle" class="cb">−6</text>
<text transform="translate(246.94 590.80) scale(1.1 1)" text-anchor="middle" class="cb">−4</text>
<text transform="translate(294.56 590.80) scale(1.1 1)" text-anchor="middle" class="cb">−2</text>
<text transform="translate(342.19 590.80) scale(1.1 1)" text-anchor="middle" class="cb">−0.5</text>
<text transform="translate(389.81 590.80) scale(1.1 1)" text-anchor="middle" class="cb">0.5</text>
<text transform="translate(437.44 590.80) scale(1.1 1)" text-anchor="middle" class="cb">2</text>
<text transform="translate(485.06 590.80) scale(1.1 1)" text-anchor="middle" class="cb">4</text>
<text transform="translate(532.69 590.80) scale(1.1 1)" text-anchor="middle" class="cb">6</text>
</g>
<g id="panel2">
<g clip-path="url(#clip2)">
<g filter="url(#b1)"><rect x="171.2" y="656.1" width="389.40000000000003" height="155.0" fill="#1955ff"/>
<path d="M170.5 636.1L235.4 636.1L235.4 810.4L170.5 810.4Z" fill="#4178fa"/>
<path d="M205.0 636.1C201.9 639.4 204.8 645.3 205.0 656.1C205.1 666.9 205.5 688.1 206.0 701.0C206.5 713.9 206.8 725.2 208.0 733.5C209.1 741.8 211.1 746.4 213.0 751.0C214.8 755.6 217.5 761.0 219.2 761.0C220.9 761.0 222.1 761.0 222.9 751.0C223.7 741.0 223.9 716.9 223.9 701.0C224.0 685.2 223.5 666.9 223.4 656.1C223.4 645.3 226.5 639.4 223.4 636.1C220.4 632.8 208.0 632.8 205.0 636.1Z" fill="#82aaff"/>
<path d="M208.0 636.1C205.6 639.4 207.8 647.4 208.0 656.1C208.1 664.8 208.5 678.1 209.0 688.6C209.4 699.0 209.4 712.3 210.5 718.5C211.5 724.8 213.8 726.0 215.4 726.0C217.1 726.0 219.4 724.8 220.4 718.5C221.5 712.3 221.7 699.0 221.9 688.6C222.2 678.1 221.9 664.8 221.9 656.1C221.9 647.4 224.3 639.4 221.9 636.1C219.6 632.8 210.3 632.8 208.0 636.1Z" fill="#b4cdff"/>
<path d="M170.5 713.5C172.2 700.0 177.2 709.8 180.5 709.8C183.8 709.8 187.4 713.3 190.5 713.5C193.6 713.7 197.5 707.7 199.2 711.0C201.0 714.4 200.8 725.2 201.0 733.5C201.1 741.8 200.9 753.1 200.0 761.0C199.1 768.9 198.3 776.8 195.5 780.9C192.6 785.1 187.1 784.3 183.0 785.9C178.8 787.6 172.6 803.0 170.5 790.9C168.4 778.9 168.8 727.0 170.5 713.5Z" fill="#82aaff"/>
<path d="M179.0 726.0C179.8 721.9 181.8 719.6 184.0 719.0C186.2 718.4 189.9 720.7 192.0 722.3C194.1 723.8 195.8 725.0 196.5 728.5C197.1 732.0 196.8 739.3 196.0 743.5C195.1 747.6 193.1 752.2 191.5 753.5C189.8 754.7 187.6 750.6 186.0 751.0C184.4 751.4 183.2 757.2 182.0 756.0C180.8 754.7 179.5 748.5 179.0 743.5C178.5 738.5 178.2 730.1 179.0 726.0Z" fill="#b4cdff"/>
<path d="M184.0 729.0C184.5 727.4 185.9 726.0 187.0 726.0C188.1 726.0 190.0 727.3 190.5 729.0C191.0 730.7 190.6 734.4 190.0 736.0C189.3 737.6 187.5 738.6 186.5 738.5C185.5 738.4 184.4 737.1 184.0 735.5C183.6 733.9 183.5 730.6 184.0 729.0Z" fill="#dceeff"/>
<path d="M206.5 756.0C207.3 749.7 210.2 752.6 213.0 753.5C215.7 754.3 221.1 755.6 222.9 761.0C224.8 766.4 224.6 779.3 224.2 785.9C223.8 792.6 223.1 800.1 220.4 800.9C217.7 801.7 210.3 798.4 208.0 790.9C205.6 783.4 205.6 762.2 206.5 756.0Z" fill="#82aaff"/>
<path d="M194.0 673.6C194.7 669.4 196.9 667.3 198.0 668.6C199.1 669.8 200.0 675.7 200.5 681.1C201.0 686.5 201.2 696.0 201.0 701.0C200.7 706.0 199.9 709.6 199.0 711.0C198.1 712.5 196.4 712.7 195.5 709.8C194.6 706.9 193.7 699.6 193.5 693.5C193.2 687.5 193.2 677.7 194.0 673.6Z" fill="#1955ff"/>
<path d="M177.5 691.1C177.9 687.1 180.4 685.2 181.5 686.1C182.6 686.9 183.7 692.3 184.0 696.0C184.2 699.8 183.8 706.2 183.0 708.5C182.2 710.8 179.9 712.7 179.0 709.8C178.1 706.9 177.1 695.0 177.5 691.1Z" fill="#1955ff"/>
<path d="M170.5 636.1C172.3 627.8 179.9 631.1 181.5 636.1C183.1 641.1 180.8 659.0 180.0 666.1C179.2 673.2 178.1 675.2 176.5 678.6C174.9 681.9 171.5 693.1 170.5 686.1C169.5 679.0 168.7 644.4 170.5 636.1Z" fill="#82aaff"/>
<path d="M202.2 656.1C202.8 656.1 204.2 679.2 204.9 690.7C205.6 702.3 205.9 713.8 206.2 725.4C206.5 736.9 206.7 748.5 206.6 760.0C206.5 771.6 206.3 794.7 205.7 794.7C205.1 794.7 203.7 771.6 203.0 760.0C202.4 748.5 202.0 736.9 201.7 725.4C201.4 713.8 201.2 702.3 201.3 690.7C201.4 679.2 201.6 656.1 202.2 656.1Z" fill="#1955ff"/>
<path d="M202.2 656.1C202.5 656.1 203.4 674.8 203.8 684.2C204.3 693.5 204.5 702.9 204.7 712.3C204.9 721.6 205.1 731.0 205.1 740.4C205.1 749.7 205.0 768.5 204.7 768.5C204.4 768.5 203.5 749.7 203.1 740.4C202.7 731.0 202.4 721.6 202.2 712.3C202.0 702.9 201.8 693.5 201.8 684.2C201.8 674.8 201.9 656.1 202.2 656.1Z" fill="#0537e6"/>
<path d="M202.5 666.1C202.6 666.1 203.0 676.1 203.2 681.1C203.4 686.1 203.5 691.1 203.6 696.0C203.7 701.0 203.7 706.0 203.7 711.0C203.7 716.0 203.6 726.0 203.5 726.0C203.3 726.0 202.9 716.0 202.7 711.0C202.5 706.0 202.4 701.0 202.3 696.0C202.3 691.1 202.2 686.1 202.2 681.1C202.2 676.1 202.3 666.1 202.5 666.1Z" fill="#0523be"/>
<path d="M222.4 636.1C220.7 639.4 222.4 645.3 222.4 656.1C222.5 666.9 222.7 685.2 222.9 701.0C223.2 716.9 223.5 736.0 223.9 751.0C224.4 766.0 224.7 783.0 225.4 790.9C226.2 798.8 227.4 799.2 228.4 798.4C229.4 797.6 230.8 798.0 231.4 785.9C232.1 773.9 232.2 747.6 232.4 726.0C232.7 704.4 232.8 671.1 232.9 656.1C233.0 641.1 234.7 639.4 232.9 636.1C231.2 632.8 224.2 632.8 222.4 636.1Z" fill="#4178fa"/>
<path d="M227.9 671.1C228.5 671.1 229.4 692.3 229.9 702.9C230.3 713.5 230.4 724.1 230.4 734.7C230.5 745.4 230.4 756.0 230.1 766.6C229.8 777.2 229.0 798.4 228.4 798.4C227.8 798.4 226.9 777.2 226.5 766.6C226.1 756.0 226.0 745.4 225.9 734.7C225.9 724.1 225.9 713.5 226.3 702.9C226.6 692.3 227.3 671.1 227.9 671.1Z" fill="#1955ff"/>
<path d="M210.5 688.6C210.7 688.6 211.2 701.9 211.4 708.5C211.6 715.2 211.7 721.8 211.7 728.5C211.7 735.2 211.8 741.8 211.6 748.5C211.5 755.1 211.2 768.5 211.0 768.5C210.7 768.5 210.2 755.1 210.0 748.5C209.8 741.8 209.7 735.2 209.7 728.5C209.7 721.8 209.7 715.2 209.8 708.5C209.9 701.9 210.2 688.6 210.5 688.6Z" fill="#1955ff"/>
<path d="M231.9 636.1C230.8 639.4 231.8 641.1 231.9 656.1C232.0 671.1 232.6 705.2 232.4 726.0C232.3 746.8 231.6 768.5 230.9 780.9C230.3 793.4 228.1 797.2 228.4 800.9C228.8 804.7 231.3 805.9 232.9 803.4C234.6 800.9 237.3 798.8 238.4 785.9C239.6 773.0 239.9 747.6 239.9 726.0C239.9 704.4 238.7 671.1 238.4 656.1C238.2 641.1 239.5 639.4 238.4 636.1C237.3 632.8 233.0 632.8 231.9 636.1Z" fill="#82aaff"/>
<path d="M233.9 636.1C233.0 639.4 233.8 641.1 233.9 656.1C234.1 671.1 234.8 706.0 234.9 726.0C235.0 746.0 234.9 763.9 234.4 775.9C233.9 788.0 231.8 794.3 231.9 798.4C232.1 802.6 234.1 803.8 235.4 800.9C236.8 798.0 239.0 793.4 239.9 780.9C240.8 768.5 241.0 746.8 240.9 726.0C240.8 705.2 239.7 671.1 239.4 656.1C239.2 641.1 240.3 639.4 239.4 636.1C238.5 632.8 234.8 632.8 233.9 636.1Z" fill="#dceeff"/>
<path d="M180.5 733.5C181.1 727.7 182.3 722.3 183.0 726.0C183.7 729.8 183.7 748.9 184.5 756.0C185.3 763.0 186.3 765.5 188.0 768.5C189.6 771.4 192.9 770.1 194.5 773.4C196.1 776.8 197.1 782.3 197.5 788.4C197.9 794.6 201.5 806.7 197.0 810.4C192.5 814.1 174.9 812.4 170.5 810.4C166.1 808.4 169.5 802.5 170.5 798.4C171.5 794.3 175.0 792.2 176.5 785.9C178.0 779.7 178.8 769.7 179.5 761.0C180.2 752.2 179.9 739.3 180.5 733.5Z" fill="#dceeff"/>
<path d="M181.2 746.0C181.7 740.6 182.5 733.5 183.0 736.0C183.4 738.5 183.2 754.7 184.0 761.0C184.7 767.2 186.0 770.5 187.5 773.4C189.0 776.4 191.6 775.1 193.0 778.4C194.3 781.8 195.1 788.1 195.5 793.4C195.8 798.7 199.1 807.6 195.0 810.4C190.8 813.2 174.6 811.6 170.5 810.4C166.4 809.2 169.3 806.2 170.5 803.4C171.7 800.6 175.8 799.2 177.5 793.4C179.2 787.6 179.9 776.4 180.5 768.5C181.1 760.5 180.8 751.4 181.2 746.0Z" fill="#ffc8af"/>
<path d="M183.0 775.9C184.1 773.0 186.3 770.5 188.0 771.0C189.6 771.4 191.8 774.7 193.0 778.4C194.1 782.2 195.4 789.7 195.0 793.4C194.6 797.2 192.3 800.1 190.5 800.9C188.6 801.7 185.5 800.5 184.0 798.4C182.5 796.3 181.7 792.2 181.5 788.4C181.3 784.7 181.9 778.9 183.0 775.9Z" fill="#ffa57d"/>
<path d="M185.0 783.4C185.7 781.1 187.4 779.3 188.5 779.7C189.6 780.1 190.9 783.4 191.5 785.9C192.1 788.4 192.6 792.6 192.0 794.7C191.4 796.8 189.2 798.6 188.0 798.4C186.7 798.2 185.0 795.9 184.5 793.4C184.0 790.9 184.3 785.7 185.0 783.4Z" fill="#ff7841"/>
<path d="M207.0 768.5C207.4 757.7 209.5 751.0 210.5 746.0C211.5 741.0 212.1 738.1 213.0 738.5C213.8 738.9 214.8 743.5 215.4 748.5C216.1 753.5 215.9 763.9 216.9 768.5C218.0 773.0 220.8 771.4 221.9 775.9C223.1 780.5 223.9 790.2 223.9 795.9C223.9 801.7 224.6 808.0 221.9 810.4C219.3 812.8 210.5 817.4 208.0 810.4C205.5 803.4 206.5 779.2 207.0 768.5Z" fill="#dceeff"/>
<path d="M210.0 761.0C210.3 749.8 211.7 744.3 212.5 743.5C213.2 742.7 213.9 751.4 214.4 756.0C214.9 760.5 214.4 766.8 215.4 771.0C216.4 775.1 219.3 776.4 220.4 780.9C221.6 785.5 222.4 793.5 222.4 798.4C222.4 803.3 222.4 808.4 220.4 810.4C218.4 812.4 212.2 818.6 210.5 810.4C208.7 802.2 209.6 772.1 210.0 761.0Z" fill="#ffc8af"/>
<path d="M211.0 761.0C211.0 755.6 212.0 748.5 212.5 748.5C213.0 748.5 213.6 756.4 213.9 761.0C214.3 765.5 214.8 772.6 214.4 775.9C214.1 779.3 212.5 783.4 212.0 780.9C211.4 778.4 210.9 766.4 211.0 761.0Z" fill="#ffa57d"/>
<path d="M214.4 780.9C215.0 778.0 217.3 776.8 218.4 778.4C219.6 780.1 220.8 786.8 221.4 790.9C222.1 795.1 223.0 800.9 222.4 803.4C221.9 805.9 219.2 807.2 217.9 805.9C216.7 804.7 215.5 800.1 214.9 795.9C214.4 791.8 213.9 783.9 214.4 780.9Z" fill="#ff7841"/>
<path d="M215.9 787.2C216.2 784.5 218.1 784.5 218.9 785.9C219.8 787.4 220.7 793.1 220.9 795.9C221.2 798.7 221.0 801.9 220.4 802.9C219.9 804.0 218.2 804.8 217.4 802.2C216.7 799.5 215.7 789.9 215.9 787.2Z" fill="#e63205"/>
<path d="M236.9 636.1C229.4 639.4 236.7 645.3 236.9 656.1C237.2 666.9 237.8 685.2 238.4 701.0C239.0 716.9 240.4 737.7 240.4 751.0C240.4 764.3 239.8 772.6 238.4 780.9C237.0 789.3 233.3 796.0 231.9 800.9C230.6 805.8 222.4 808.8 230.4 810.4C238.4 812.0 272.0 816.1 279.9 810.4C287.7 804.7 277.9 788.3 277.4 775.9C276.9 763.5 276.3 747.6 276.9 736.0C277.5 724.3 280.0 719.3 280.9 706.0C281.7 692.7 281.7 667.7 281.9 656.1C282.0 644.4 289.4 639.4 281.9 636.1C274.4 632.8 244.4 632.8 236.9 636.1Z" fill="#ffe8d7"/>
<path d="M238.4 636.1C231.4 639.4 238.2 645.3 238.4 656.1C238.7 666.9 239.3 685.2 239.9 701.0C240.6 716.9 242.3 737.7 242.4 751.0C242.5 764.3 241.6 773.0 240.4 780.9C239.3 788.8 232.9 795.1 235.4 798.4C237.9 801.7 248.7 800.7 255.4 800.9C262.1 801.2 272.7 804.1 275.9 799.9C279.0 795.8 274.7 786.4 274.4 775.9C274.0 765.5 273.1 748.5 273.9 737.2C274.6 726.0 277.8 722.1 278.9 708.5C279.9 695.0 280.1 668.2 280.4 656.1C280.6 644.0 287.4 639.4 280.4 636.1C273.4 632.8 245.4 632.8 238.4 636.1Z" fill="#ffc8af"/>
<path d="M236.9 799.9C238.2 798.4 244.8 797.8 247.9 797.9C251.0 798.1 254.3 799.5 255.4 800.9C256.5 802.3 256.9 805.4 254.4 806.4C251.9 807.4 243.3 808.0 240.4 806.9C237.5 805.8 235.7 801.4 236.9 799.9Z" fill="#ffe8d7"/>
<path d="M238.9 636.1C232.1 639.4 238.8 648.6 238.9 656.1C239.1 663.6 239.3 673.6 239.9 681.1C240.6 688.6 241.6 695.6 242.9 701.0C244.2 706.4 245.8 712.1 247.9 713.5C250.0 715.0 253.5 707.7 255.4 709.8C257.3 711.9 257.4 721.6 259.1 726.0C260.9 730.4 263.9 732.9 265.9 736.0C267.8 739.1 269.6 744.1 270.9 744.7C272.2 745.4 272.5 744.9 273.6 739.7C274.8 734.5 276.8 727.5 277.9 713.5C278.9 699.6 279.5 669.0 279.9 656.1C280.2 643.2 286.7 639.4 279.9 636.1C273.0 632.8 245.7 632.8 238.9 636.1Z" fill="#ffa57d"/>
<path d="M240.9 775.9C241.9 773.2 245.6 770.5 247.9 770.5C250.2 770.5 253.6 773.2 254.9 775.9C256.1 778.7 256.6 784.7 255.4 787.2C254.2 789.7 250.2 790.9 247.9 790.9C245.7 790.9 243.1 789.7 241.9 787.2C240.7 784.7 239.9 778.7 240.9 775.9Z" fill="#ffa57d"/>
<path d="M263.4 775.9C264.1 773.2 266.8 770.5 268.4 770.5C270.0 770.5 272.0 773.0 272.9 775.9C273.7 778.9 274.1 785.4 273.4 787.9C272.6 790.4 270.0 791.1 268.4 790.9C266.8 790.8 264.7 789.7 263.9 787.2C263.1 784.7 262.6 778.7 263.4 775.9Z" fill="#ffa57d"/>
<path d="M241.9 641.1C242.3 641.1 242.9 648.4 243.2 652.0C243.5 655.7 243.6 659.3 243.7 663.0C243.7 666.6 243.7 670.2 243.5 673.9C243.3 677.5 242.8 684.8 242.4 684.8C242.0 684.8 241.4 677.5 241.1 673.9C240.8 670.2 240.7 666.6 240.7 663.0C240.6 659.3 240.6 655.7 240.8 652.0C241.0 648.4 241.5 641.1 241.9 641.1Z" fill="#ff7841"/>
<path d="M257.9 636.1C254.3 639.4 257.7 647.4 257.9 656.1C258.1 664.8 258.2 679.0 258.9 688.6C259.6 698.1 260.4 706.9 261.9 713.5C263.4 720.2 266.1 725.0 267.9 728.5C269.6 732.0 271.2 735.6 272.4 734.7C273.6 733.9 274.1 731.2 275.1 723.5C276.1 715.8 277.7 699.8 278.4 688.6C279.1 677.3 279.2 664.8 279.4 656.1C279.5 647.4 282.9 639.4 279.4 636.1C275.8 632.8 261.5 632.8 257.9 636.1Z" fill="#ff7841"/>
<path d="M248.9 641.1C249.4 641.1 250.1 650.1 250.4 654.5C250.7 659.0 250.8 663.5 250.8 668.0C250.8 672.4 250.8 676.9 250.5 681.4C250.2 685.8 249.6 694.8 249.2 694.8C248.7 694.8 248.0 685.8 247.7 681.4C247.4 676.9 247.3 672.4 247.3 668.0C247.3 663.5 247.3 659.0 247.6 654.5C247.8 650.1 248.4 641.1 248.9 641.1Z" fill="#ff7841"/>
<path d="M260.9 636.1C258.0 639.4 260.7 648.2 260.9 656.1C261.1 664.0 261.1 675.2 261.9 683.6C262.6 691.9 263.9 700.2 265.4 706.0C266.9 711.9 269.2 717.3 270.9 718.5C272.5 719.8 274.2 719.3 275.4 713.5C276.5 707.7 277.4 693.1 277.9 683.6C278.4 674.0 278.3 664.0 278.4 656.1C278.5 648.2 281.3 639.4 278.4 636.1C275.5 632.8 263.8 632.8 260.9 636.1Z" fill="#ff5519"/>
<path d="M264.9 666.1C265.6 663.2 267.5 661.3 269.1 661.1C270.8 660.9 273.6 661.5 274.9 664.8C276.2 668.2 276.9 675.4 276.9 681.1C276.9 686.7 276.0 694.6 274.9 698.5C273.8 702.5 271.8 705.6 270.4 704.8C269.0 704.0 267.3 697.9 266.4 693.5C265.5 689.2 265.1 683.1 264.9 678.6C264.6 674.0 264.2 669.0 264.9 666.1Z" fill="#e63205"/>
<path d="M285.1 636.1C283.2 639.4 285.1 641.1 285.1 656.1C285.2 671.1 285.2 705.2 285.4 726.0C285.5 746.8 286.1 766.9 286.1 780.9C286.2 795.0 283.7 805.5 285.6 810.4C287.5 815.3 295.6 815.3 297.3 810.4C299.1 805.5 296.6 795.0 296.3 780.9C296.1 766.9 295.8 746.8 295.8 726.0C295.8 705.2 296.3 671.1 296.3 656.1C296.4 641.1 298.2 639.4 296.3 636.1C294.5 632.8 287.0 632.8 285.1 636.1Z" fill="#ffc8af"/>
<path d="M285.6 636.1C283.9 639.4 285.6 641.1 285.6 656.1C285.7 671.1 285.6 706.9 285.9 726.0C286.2 745.1 286.6 760.1 287.4 771.0C288.1 781.8 289.2 785.9 290.1 790.9C291.0 795.9 291.9 802.6 292.6 800.9C293.3 799.2 294.1 793.4 294.6 780.9C295.1 768.5 295.1 746.8 295.3 726.0C295.6 705.2 295.8 671.1 295.8 656.1C295.9 641.1 297.6 639.4 295.8 636.1C294.1 632.8 287.3 632.8 285.6 636.1Z" fill="#ff7841"/>
<path d="M284.9 636.1C283.1 639.4 284.7 643.2 284.9 656.1C285.0 669.0 285.3 697.7 285.9 713.5C286.4 729.3 287.4 740.6 288.4 751.0C289.3 761.4 290.4 775.1 291.4 775.9C292.3 776.8 293.3 766.4 293.8 756.0C294.4 745.6 294.6 730.2 294.8 713.5C295.1 696.9 295.3 669.0 295.3 656.1C295.4 643.2 297.1 639.4 295.3 636.1C293.6 632.8 286.6 632.8 284.9 636.1Z" fill="#ff5519"/>
<path d="M285.4 636.1C283.8 639.4 285.2 644.0 285.4 656.1C285.5 668.2 285.8 695.2 286.4 708.5C286.9 721.8 287.9 728.9 288.9 736.0C289.8 743.1 291.0 751.4 291.9 751.0C292.7 750.6 293.4 740.6 293.8 733.5C294.3 726.4 294.4 721.4 294.6 708.5C294.8 695.6 294.8 668.2 294.8 656.1C294.9 644.0 296.4 639.4 294.8 636.1C293.3 632.8 286.9 632.8 285.4 636.1Z" fill="#e63205"/>
<path d="M285.9 636.1C284.4 639.4 285.7 645.3 285.9 656.1C286.0 666.9 286.3 689.4 286.9 701.0C287.4 712.7 288.4 720.6 289.4 726.0C290.3 731.4 291.6 737.7 292.4 733.5C293.1 729.3 293.5 713.9 293.8 701.0C294.2 688.1 294.3 666.9 294.3 656.1C294.4 645.3 295.8 639.4 294.3 636.1C292.9 632.8 287.3 632.8 285.9 636.1Z" fill="#c32305"/>
<path d="M286.9 636.1C285.8 639.4 286.7 647.4 286.9 656.1C287.0 664.8 287.4 679.4 287.9 688.6C288.4 697.7 289.1 706.9 289.9 711.0C290.6 715.2 291.8 717.3 292.4 713.5C292.9 709.8 293.2 698.1 293.3 688.6C293.5 679.0 293.3 664.8 293.3 656.1C293.3 647.4 294.4 639.4 293.3 636.1C292.3 632.8 287.9 632.8 286.9 636.1Z" fill="#8c0000"/>
<path d="M281.4 658.6C282.9 658.6 285.1 683.9 286.1 696.5C287.1 709.2 287.3 721.8 287.4 734.5C287.4 747.1 287.2 759.8 286.3 772.4C285.4 785.1 283.4 810.4 281.9 810.4C280.3 810.4 278.1 785.1 277.1 772.4C276.1 759.8 275.9 747.1 275.9 734.5C275.8 721.8 276.0 709.2 276.9 696.5C277.8 683.9 279.8 658.6 281.4 658.6Z" fill="#dceeff"/>
<path d="M281.4 668.6C282.6 668.6 284.3 692.2 285.1 704.0C286.0 715.9 286.2 727.7 286.2 739.5C286.3 751.3 286.2 763.1 285.5 774.9C284.8 786.8 283.3 810.4 282.1 810.4C280.9 810.4 279.1 786.8 278.3 774.9C277.5 763.1 277.3 751.3 277.2 739.5C277.2 727.7 277.3 715.9 278.0 704.0C278.6 692.2 280.2 668.6 281.4 668.6Z" fill="#b4cdff"/>
<path d="M282.1 688.6C282.9 688.6 284.1 708.9 284.6 719.0C285.2 729.2 285.3 739.3 285.4 749.5C285.4 759.6 285.3 769.8 284.9 779.9C284.4 790.1 283.4 810.4 282.6 810.4C281.8 810.4 280.6 790.1 280.1 779.9C279.6 769.8 279.4 759.6 279.4 749.5C279.3 739.3 279.4 729.2 279.8 719.0C280.3 708.9 281.3 688.6 282.1 688.6Z" fill="#82aaff"/>
<path d="M283.1 701.0C283.6 701.0 284.2 718.7 284.5 727.6C284.8 736.4 284.9 745.3 284.9 754.1C284.9 762.9 284.8 771.8 284.5 780.6C284.2 789.5 283.6 807.2 283.1 807.2C282.6 807.2 282.0 789.5 281.7 780.6C281.4 771.8 281.4 762.9 281.4 754.1C281.4 745.3 281.4 736.4 281.7 727.6C282.0 718.7 282.6 701.0 283.1 701.0Z" fill="#4178fa"/>
<path d="M283.4 726.0C283.6 726.0 283.8 736.8 284.0 742.2C284.1 747.6 284.1 753.1 284.1 758.5C284.1 763.9 284.1 769.3 284.0 774.7C283.8 780.1 283.6 790.9 283.4 790.9C283.2 790.9 282.9 780.1 282.8 774.7C282.6 769.3 282.6 763.9 282.6 758.5C282.6 753.1 282.6 747.6 282.8 742.2C282.9 736.8 283.2 726.0 283.4 726.0Z" fill="#1955ff"/>
<path d="M296.3 636.1C295.4 639.4 296.3 641.1 296.3 656.1C296.4 671.1 296.7 700.3 296.8 726.0C297.0 751.7 296.3 796.3 297.3 810.4C298.3 824.5 302.0 824.5 302.8 810.4C303.7 796.3 302.5 751.7 302.3 726.0C302.2 700.3 301.9 671.1 301.8 656.1C301.8 641.1 302.8 639.4 301.8 636.1C300.9 632.8 297.3 632.8 296.3 636.1Z" fill="#dceeff"/>
<path d="M299.8 686.1C300.2 686.1 300.7 706.8 301.0 717.1C301.2 727.5 301.3 737.9 301.3 748.2C301.4 758.6 301.4 769.0 301.2 779.3C301.0 789.7 300.7 810.4 300.3 810.4C300.0 810.4 299.5 789.7 299.2 779.3C299.0 769.0 298.9 758.6 298.8 748.2C298.8 737.9 298.8 727.5 299.0 717.1C299.1 706.8 299.5 686.1 299.8 686.1Z" fill="#4178fa"/>
<path d="M299.8 701.0C300.0 701.0 300.3 717.7 300.5 726.0C300.6 734.3 300.7 742.7 300.7 751.0C300.8 759.3 300.8 767.6 300.7 775.9C300.7 784.3 300.5 800.9 300.3 800.9C300.2 800.9 299.9 784.3 299.7 775.9C299.6 767.6 299.5 759.3 299.5 751.0C299.4 742.7 299.4 734.3 299.5 726.0C299.5 717.7 299.7 701.0 299.8 701.0Z" fill="#1955ff"/>
<path d="M300.8 636.1L347.8 636.1L347.8 810.4L300.8 810.4Z" fill="#ffe8d7"/>
<path d="M301.3 636.1C295.6 639.4 301.3 641.1 301.3 656.1C301.4 671.1 301.6 703.5 301.8 726.0C302.1 748.5 301.8 778.4 302.8 790.9C303.8 803.4 304.5 799.7 307.8 800.9C311.2 802.2 318.9 800.1 322.8 798.4C326.7 796.8 329.1 796.3 331.3 790.9C333.5 785.5 334.9 776.8 335.8 766.0C336.7 755.1 336.5 744.3 336.5 726.0C336.5 707.7 335.9 671.1 335.8 656.1C335.7 641.1 341.5 639.4 335.8 636.1C330.1 632.8 307.1 632.8 301.3 636.1Z" fill="#ffc8af"/>
<path d="M301.8 636.1C296.4 639.4 301.8 641.1 301.8 656.1C301.9 671.1 302.0 707.3 302.3 726.0C302.7 744.7 303.1 757.6 303.8 768.5C304.6 779.3 305.8 790.9 306.8 790.9C307.8 790.9 308.8 774.3 309.8 768.5C310.8 762.6 311.7 755.6 312.8 756.0C314.0 756.4 315.7 766.0 316.8 771.0C318.0 775.9 318.9 786.3 319.8 785.9C320.7 785.5 321.3 774.3 322.3 768.5C323.3 762.6 324.5 752.2 325.8 751.0C327.1 749.7 329.1 761.8 330.3 761.0C331.6 760.1 332.6 756.0 333.3 746.0C334.0 736.0 334.3 716.0 334.5 701.0C334.8 686.1 334.5 666.9 334.5 656.1C334.5 645.3 340.0 639.4 334.5 636.1C329.1 632.8 307.3 632.8 301.8 636.1Z" fill="#ffa57d"/>
<path d="M302.1 636.1C296.8 639.4 302.0 641.1 302.1 656.1C302.2 671.1 302.2 709.4 302.6 726.0C303.0 742.7 303.5 747.6 304.3 756.0C305.1 764.3 306.3 775.9 307.3 775.9C308.3 775.9 309.2 761.0 310.3 756.0C311.5 751.0 313.1 745.6 314.3 746.0C315.6 746.4 316.8 753.9 317.8 758.5C318.8 763.0 319.5 773.9 320.3 773.4C321.1 773.0 321.7 761.8 322.8 756.0C323.9 750.1 325.6 740.6 326.8 738.5C328.1 736.4 329.3 745.6 330.3 743.5C331.3 741.4 332.2 733.1 332.8 726.0C333.4 718.9 333.8 712.7 334.0 701.0C334.3 689.4 334.0 666.9 334.0 656.1C334.0 645.3 339.4 639.4 334.0 636.1C328.7 632.8 307.4 632.8 302.1 636.1Z" fill="#ff7841"/>
<path d="M302.3 636.1C297.1 639.4 302.3 641.9 302.3 656.1C302.4 670.2 302.4 706.9 302.8 721.0C303.3 735.2 304.0 735.6 304.8 741.0C305.7 746.4 306.8 753.9 307.8 753.5C308.8 753.1 309.6 742.2 310.8 738.5C312.1 734.7 314.0 730.6 315.3 731.0C316.7 731.4 317.8 737.7 318.8 741.0C319.8 744.3 320.6 751.4 321.3 751.0C322.1 750.6 322.2 742.7 323.3 738.5C324.4 734.3 326.5 728.5 327.8 726.0C329.1 723.5 330.4 727.7 331.3 723.5C332.2 719.3 332.7 712.3 333.0 701.0C333.4 689.8 333.5 666.9 333.5 656.1C333.6 645.3 338.8 639.4 333.5 636.1C328.3 632.8 307.5 632.8 302.3 636.1Z" fill="#ff5519"/>
<path d="M302.3 636.1C297.3 639.4 302.2 644.0 302.3 656.1C302.5 668.2 302.8 696.9 303.3 708.5C303.9 720.2 304.7 723.5 305.8 726.0C307.0 728.5 308.6 724.8 310.3 723.5C312.1 722.3 314.7 718.1 316.3 718.5C318.0 718.9 319.2 725.2 320.3 726.0C321.4 726.8 321.7 725.6 322.8 723.5C323.9 721.4 325.6 715.8 326.8 713.5C328.1 711.2 329.4 713.9 330.3 709.8C331.2 705.6 331.6 697.5 332.1 688.6C332.5 679.6 332.7 664.8 332.8 656.1C332.9 647.4 337.9 639.4 332.8 636.1C327.7 632.8 307.4 632.8 302.3 636.1Z" fill="#e63205"/>
<path d="M302.8 636.1C298.1 639.4 302.7 645.7 302.8 656.1C303.0 666.5 303.2 688.8 303.8 698.5C304.5 708.3 305.5 712.3 306.8 714.8C308.2 717.3 310.2 714.8 311.8 713.5C313.4 712.3 315.1 707.7 316.3 707.3C317.6 706.9 318.4 710.2 319.3 711.0C320.2 711.9 320.8 713.3 321.8 712.3C322.8 711.2 324.1 707.1 325.3 704.8C326.5 702.5 327.9 703.3 328.8 698.5C329.7 693.8 330.3 683.1 330.8 676.1C331.3 669.0 331.4 662.8 331.6 656.1C331.7 649.4 336.3 639.4 331.6 636.1C326.8 632.8 307.6 632.8 302.8 636.1Z" fill="#c32305"/>
<path d="M303.8 636.1C301.8 639.4 303.7 647.4 303.8 656.1C304.0 664.8 304.2 679.8 304.8 688.6C305.5 697.3 306.7 705.0 307.8 708.5C309.0 712.1 310.7 711.0 311.8 709.8C313.0 708.5 314.1 705.8 314.8 701.0C315.6 696.3 316.1 688.6 316.3 681.1C316.6 673.6 316.3 663.6 316.3 656.1C316.3 648.6 318.4 639.4 316.3 636.1C314.2 632.8 305.9 632.8 303.8 636.1Z" fill="#8c0000"/>
<path d="M323.8 656.1C324.3 656.1 325.0 664.0 325.3 668.0C325.7 671.9 325.8 675.9 325.8 679.8C325.9 683.8 325.8 687.7 325.6 691.7C325.3 695.6 324.8 703.5 324.3 703.5C323.8 703.5 323.1 695.6 322.8 691.7C322.5 687.7 322.4 683.8 322.3 679.8C322.3 675.9 322.3 671.9 322.5 668.0C322.8 664.0 323.3 656.1 323.8 656.1Z" fill="#8c0000"/>
<path d="M317.8 661.1C318.0 661.1 318.4 671.9 318.5 677.3C318.7 682.7 318.8 688.1 318.8 693.5C318.9 699.0 318.9 704.4 318.8 709.8C318.7 715.2 318.5 726.0 318.3 726.0C318.1 726.0 317.8 715.2 317.6 709.8C317.4 704.4 317.4 699.0 317.3 693.5C317.3 688.1 317.3 682.7 317.3 677.3C317.4 671.9 317.6 661.1 317.8 661.1Z" fill="#ff5519"/>
<path d="M334.3 636.1C333.3 639.4 334.1 641.1 334.3 656.1C334.5 671.1 335.3 707.3 335.3 726.0C335.3 744.7 335.2 757.2 334.3 768.5C333.4 779.7 331.9 788.0 329.8 793.4C327.7 798.8 321.3 799.4 321.8 800.9C322.3 802.4 330.0 804.1 332.8 802.4C335.6 800.7 337.5 799.5 338.8 790.9C340.1 782.4 340.4 766.0 340.8 751.0C341.2 736.0 341.4 716.9 341.3 701.0C341.2 685.2 340.5 666.9 340.3 656.1C340.1 645.3 341.3 639.4 340.3 636.1C339.3 632.8 335.3 632.8 334.3 636.1Z" fill="#dceeff"/>
<path d="M337.3 636.1C336.3 639.4 337.1 641.1 337.3 656.1C337.5 671.1 338.3 707.3 338.3 726.0C338.3 744.7 338.0 756.8 337.3 768.5C336.5 780.1 332.9 792.2 333.8 795.9C334.7 799.7 341.0 798.4 342.8 790.9C344.5 783.4 344.0 766.0 344.3 751.0C344.5 736.0 344.5 716.9 344.3 701.0C344.1 685.2 343.5 666.9 343.3 656.1C343.1 645.3 344.3 639.4 343.3 636.1C342.3 632.8 338.3 632.8 337.3 636.1Z" fill="#82aaff"/>
<path d="M340.8 636.1C339.8 639.4 340.6 641.1 340.8 656.1C341.0 671.1 341.8 707.3 341.8 726.0C341.8 744.7 341.4 757.2 340.8 768.5C340.2 779.7 337.1 789.7 338.3 793.4C339.5 797.2 346.1 798.0 347.8 790.9C349.4 783.9 348.3 766.0 348.3 751.0C348.3 736.0 348.0 716.9 347.8 701.0C347.5 685.2 346.9 666.9 346.8 656.1C346.6 645.3 347.8 639.4 346.8 636.1C345.8 632.8 341.8 632.8 340.8 636.1Z" fill="#4178fa"/>
<path d="M344.3 636.1C342.5 639.4 344.1 641.1 344.3 656.1C344.5 671.1 345.3 707.3 345.3 726.0C345.3 744.7 344.7 757.6 344.3 768.5C343.9 779.3 341.0 787.2 342.8 790.9C344.6 794.7 353.2 816.7 355.3 790.9C357.4 765.1 357.1 661.9 355.3 636.1C353.4 610.3 346.1 632.8 344.3 636.1Z" fill="#1955ff"/>
<path d="M280.4 800.9C284.1 798.9 295.8 798.6 302.8 798.4C309.9 798.2 315.3 800.0 322.8 799.9C330.3 799.8 341.1 798.1 347.8 797.9C354.4 797.8 360.3 796.8 362.8 798.9C365.3 801.0 376.5 808.5 362.8 810.4C349.0 812.3 294.1 812.0 280.4 810.4C266.6 808.8 276.6 802.9 280.4 800.9Z" fill="#ffe8d7"/>
<path d="M307.8 802.4C311.2 800.8 321.1 801.1 327.8 800.9C334.5 800.7 342.0 801.2 347.8 801.4C353.6 801.6 360.3 800.4 362.8 801.9C365.3 803.4 371.9 809.0 362.8 810.4C353.6 811.8 317.0 811.7 307.8 810.4C298.7 809.1 304.5 804.0 307.8 802.4Z" fill="#ffc8af"/>
<path d="M310.8 785.9C311.1 785.9 311.5 789.3 311.6 790.9C311.8 792.6 311.8 794.3 311.8 795.9C311.8 797.6 311.8 799.2 311.6 800.9C311.5 802.6 311.1 805.9 310.8 805.9C310.6 805.9 310.2 802.6 310.0 800.9C309.9 799.2 309.8 797.6 309.8 795.9C309.8 794.3 309.9 792.6 310.0 790.9C310.2 789.3 310.6 785.9 310.8 785.9Z" fill="#4178fa"/>
<path d="M320.3 758.5C320.6 758.5 320.9 766.0 321.1 769.7C321.3 773.4 321.3 777.2 321.3 780.9C321.3 784.7 321.3 788.4 321.1 792.2C320.9 795.9 320.6 803.4 320.3 803.4C320.0 803.4 319.7 795.9 319.5 792.2C319.4 788.4 319.3 784.7 319.3 780.9C319.3 777.2 319.4 773.4 319.5 769.7C319.7 766.0 320.0 758.5 320.3 758.5Z" fill="#4178fa"/>
<path d="M315.3 790.9C315.6 790.9 316.0 793.4 316.1 794.7C316.3 795.9 316.3 797.2 316.3 798.4C316.3 799.7 316.3 800.9 316.1 802.2C316.0 803.4 315.6 805.9 315.3 805.9C315.1 805.9 314.7 803.4 314.5 802.2C314.4 800.9 314.3 799.7 314.3 798.4C314.3 797.2 314.4 795.9 314.5 794.7C314.7 793.4 315.1 790.9 315.3 790.9Z" fill="#82aaff"/>
<path d="M347.0 636.1C341.7 639.4 346.7 649.4 347.0 656.1C347.3 662.8 348.6 667.7 349.0 676.1C349.4 684.4 349.1 697.7 349.5 706.0C349.9 714.4 350.4 720.6 351.5 726.0C352.6 731.4 354.9 733.5 356.0 738.5C357.1 743.5 357.7 751.0 358.0 756.0C358.2 761.0 355.3 766.3 357.5 768.5C359.7 770.6 368.5 771.0 371.0 769.0C373.5 766.9 372.3 761.0 372.5 756.0C372.6 750.9 371.0 743.5 372.0 738.5C373.0 733.5 376.5 730.2 378.5 726.0C380.5 721.8 382.8 719.8 384.0 713.5C385.1 707.3 385.6 695.6 385.5 688.6C385.3 681.5 384.0 676.5 383.0 671.1C381.9 665.7 379.6 661.9 379.0 656.1C378.3 650.3 384.3 639.4 379.0 636.1C373.6 632.8 352.3 632.8 347.0 636.1Z" fill="#0537e6"/>
<path d="M354.5 673.6C355.8 668.4 358.5 666.1 361.0 664.8C363.5 663.6 367.4 663.4 369.7 666.1C372.1 668.8 373.9 675.2 375.0 681.1C376.0 686.9 376.4 695.4 376.0 701.0C375.6 706.7 374.6 711.9 372.5 714.8C370.4 717.6 366.2 718.2 363.5 718.0C360.7 717.8 357.7 717.2 356.0 713.5C354.3 709.9 353.3 702.7 353.0 696.0C352.8 689.4 353.2 678.8 354.5 673.6Z" fill="#0523be"/>
<ellipse cx="364.5" cy="697.3" rx="6.0" ry="11.0" fill="#000096"/>
<path d="M357.0 773.4C359.4 771.3 364.5 768.5 371.0 768.0C377.5 767.5 388.6 769.3 396.0 770.5C403.3 771.6 411.4 772.9 414.9 774.7C418.4 776.4 418.4 778.9 416.9 780.9C415.4 783.0 411.9 785.8 405.9 787.2C399.9 788.5 388.5 788.8 381.0 788.9C373.5 789.1 365.1 789.3 361.0 787.9C356.9 786.6 357.2 783.4 356.5 780.9C355.8 778.5 354.6 775.6 357.0 773.4Z" fill="#0537e6"/>
<path d="M366.0 778.4C367.2 777.2 371.0 774.9 373.5 774.7C376.0 774.5 379.9 775.8 381.0 777.2C382.1 778.6 381.6 781.7 380.0 782.9C378.3 784.1 373.2 784.5 371.0 784.4C368.7 784.4 367.3 783.4 366.5 782.4C365.7 781.4 364.8 779.7 366.0 778.4Z" fill="#0523be"/>
<ellipse cx="388.0" cy="780.4" rx="2.5" ry="1.2" fill="#0523be"/>
<path d="M393.5 636.1C382.9 639.4 391.8 648.6 393.5 656.1C395.1 663.6 401.9 672.7 403.4 681.1C404.9 689.4 404.1 698.5 402.4 706.0C400.8 713.5 396.2 719.3 393.5 726.0C390.7 732.7 386.8 740.2 386.0 746.0C385.1 751.8 385.1 757.2 388.5 761.0C391.8 764.7 398.9 767.2 405.9 768.5C413.0 769.7 423.8 769.7 430.9 768.5C438.0 767.2 444.4 764.7 448.4 761.0C452.4 757.2 453.5 753.9 454.9 746.0C456.2 738.1 456.0 728.5 456.4 713.5C456.7 698.5 456.8 669.0 456.9 656.1C457.0 643.2 467.4 639.4 456.9 636.1C446.3 632.8 404.0 632.8 393.5 636.1Z" fill="#4178fa"/>
<path d="M408.9 636.1C401.3 639.4 407.8 650.3 408.9 656.1C410.1 661.9 414.5 665.7 415.9 671.1C417.3 676.5 418.0 682.3 417.4 688.6C416.8 694.8 414.6 702.3 412.4 708.5C410.3 714.8 405.9 720.2 404.4 726.0C402.9 731.8 402.6 738.9 403.4 743.5C404.3 748.1 406.5 751.6 409.4 753.5C412.3 755.3 416.5 755.8 420.9 754.7C425.3 753.7 431.7 751.2 435.9 747.2C440.1 743.3 443.7 737.5 446.4 731.0C449.1 724.5 450.5 717.7 451.9 708.5C453.2 699.4 453.9 684.8 454.4 676.1C454.9 667.3 454.8 662.8 454.9 656.1C455.0 649.4 462.5 639.4 454.9 636.1C447.2 632.8 416.6 632.8 408.9 636.1Z" fill="#82aaff"/>
<path d="M438.4 677.3C440.9 675.6 443.4 677.9 444.9 680.6C446.4 683.3 447.6 688.5 447.4 693.5C447.1 698.6 445.7 705.6 443.4 711.0C441.1 716.4 436.8 722.2 433.4 726.0C430.0 729.8 425.7 733.1 422.9 734.0C420.2 734.9 418.0 733.5 416.9 731.5C415.8 729.5 415.4 726.3 416.4 722.3C417.4 718.2 420.7 712.5 422.9 707.3C425.2 702.1 427.3 696.0 429.9 691.1C432.5 686.1 435.9 679.1 438.4 677.3Z" fill="#b4cdff"/>
<path d="M365.0 736.0C365.3 736.0 365.9 741.4 366.1 744.1C366.4 746.8 366.4 749.5 366.5 752.2C366.5 754.9 366.5 757.6 366.4 760.3C366.2 763.0 365.8 768.5 365.5 768.5C365.2 768.5 364.6 763.0 364.4 760.3C364.1 757.6 364.0 754.9 364.0 752.2C363.9 749.5 363.9 746.8 364.1 744.1C364.3 741.4 364.7 736.0 365.0 736.0Z" fill="#1955ff"/>
<path d="M383.0 731.0C383.3 731.0 383.8 735.6 384.1 737.9C384.3 740.2 384.4 742.4 384.5 744.7C384.5 747.0 384.5 749.3 384.3 751.6C384.2 753.9 383.8 758.5 383.5 758.5C383.1 758.5 382.6 753.9 382.3 751.6C382.1 749.3 382.0 747.0 382.0 744.7C381.9 742.4 381.9 740.2 382.1 737.9C382.3 735.6 382.6 731.0 383.0 731.0Z" fill="#4178fa"/>
<path d="M458.9 636.1C456.9 639.4 459.0 647.4 458.9 656.1C458.7 664.8 458.2 676.9 457.9 688.6C457.5 700.2 456.7 714.8 456.9 726.0C457.0 737.2 457.9 749.3 458.9 756.0C459.9 762.6 461.4 765.5 462.9 766.0C464.4 766.4 466.7 765.1 467.9 758.5C469.1 751.8 469.6 743.1 470.1 726.0C470.6 708.9 470.5 671.1 470.6 656.1C470.7 641.1 472.6 639.4 470.6 636.1C468.7 632.8 460.8 632.8 458.9 636.1Z" fill="#0537e6"/>
<path d="M459.9 678.6C460.5 672.3 462.1 668.6 463.4 668.6C464.6 668.6 466.5 671.9 467.4 678.6C468.2 685.2 468.6 699.0 468.6 708.5C468.6 718.1 468.1 729.3 467.4 736.0C466.7 742.7 465.4 748.5 464.4 748.5C463.3 748.5 461.7 743.1 460.9 736.0C460.0 728.9 459.5 715.6 459.4 706.0C459.2 696.5 459.2 684.8 459.9 678.6Z" fill="#0523be"/>
<path d="M464.1 683.6C464.4 683.6 464.9 690.6 465.1 694.2C465.3 697.7 465.4 701.2 465.4 704.8C465.4 708.3 465.3 711.9 465.1 715.4C464.9 718.9 464.4 726.0 464.1 726.0C463.8 726.0 463.3 718.9 463.1 715.4C462.9 711.9 462.9 708.3 462.9 704.8C462.9 701.2 462.9 697.7 463.1 694.2C463.3 690.6 463.8 683.6 464.1 683.6Z" fill="#000096"/>
<path d="M346.0 788.9C351.8 785.7 368.9 790.8 381.0 790.9C393.0 791.1 406.8 790.8 418.4 789.9C430.1 789.1 443.0 787.4 450.9 785.9C458.8 784.4 462.9 776.9 465.9 780.9C468.8 785.0 488.3 805.5 468.4 810.4C448.4 815.3 366.4 814.0 346.0 810.4C325.6 806.8 340.2 792.2 346.0 788.9Z" fill="#4178fa"/>
<path d="M346.0 791.4C351.8 788.6 368.9 793.3 381.0 793.4C393.0 793.6 406.8 793.2 418.4 792.4C430.1 791.7 443.0 790.0 450.9 788.9C458.8 787.8 462.9 782.4 465.9 785.9C468.8 789.5 488.3 806.3 468.4 810.4C448.4 814.5 366.4 813.6 346.0 810.4C325.6 807.2 340.2 794.3 346.0 791.4Z" fill="#82aaff"/>
<path d="M346.0 794.7C351.8 792.3 368.9 796.3 381.0 796.4C393.0 796.5 406.8 796.1 418.4 795.4C430.1 794.8 442.8 793.3 450.9 792.4C459.0 791.5 464.1 786.9 467.1 789.9C470.1 792.9 489.0 807.0 468.9 810.4C448.7 813.8 366.5 813.0 346.0 810.4C325.5 807.8 340.2 797.0 346.0 794.7Z" fill="#dceeff"/>
<path d="M346.0 798.4C351.8 796.6 368.9 799.3 381.0 799.4C393.0 799.5 406.8 799.4 418.4 798.9C430.1 798.4 442.8 797.1 450.9 796.4C459.0 795.7 464.1 792.3 467.1 794.7C470.1 797.0 489.0 807.8 468.9 810.4C448.7 813.0 366.5 812.4 346.0 810.4C325.5 808.4 340.2 800.2 346.0 798.4Z" fill="#ffe8d7"/>
<path d="M346.0 800.9C350.2 799.2 363.5 800.2 371.0 800.4C378.5 800.7 383.0 802.2 391.0 802.4C398.9 802.7 410.5 801.7 418.4 801.9C426.3 802.1 432.2 803.7 438.4 803.4C444.6 803.1 450.9 800.7 455.9 799.9C460.9 799.1 466.2 796.7 468.4 798.4C470.5 800.2 489.3 808.4 468.9 810.4C448.5 812.4 366.5 812.0 346.0 810.4C325.5 808.8 341.9 802.6 346.0 800.9Z" fill="#ffc8af"/>
<path d="M353.5 801.9C355.2 801.2 362.2 800.7 366.0 800.9C369.7 801.1 375.1 802.2 376.0 802.9C376.8 803.7 374.3 805.1 371.0 805.4C367.7 805.7 358.9 805.5 356.0 804.9C353.1 804.3 351.8 802.6 353.5 801.9Z" fill="#ffa57d"/>
<path d="M381.0 802.4C381.4 801.7 390.1 801.2 393.5 801.4C396.8 801.7 401.4 803.2 400.9 803.9C400.5 804.7 394.3 806.2 391.0 805.9C387.6 805.7 380.6 803.2 381.0 802.4Z" fill="#ffa57d"/>
<path d="M455.9 801.9C457.1 800.9 463.8 799.5 465.9 799.9C467.9 800.4 469.6 803.7 468.4 804.7C467.1 805.7 460.5 806.4 458.4 805.9C456.3 805.4 454.6 802.9 455.9 801.9Z" fill="#ffa57d"/>
<path d="M438.4 792.4C440.2 791.3 447.1 790.2 450.9 790.4C454.6 790.7 460.9 792.6 460.9 793.9C460.9 795.3 454.4 797.8 450.9 798.4C447.4 799.0 442.0 798.4 439.9 797.4C437.8 796.4 436.6 793.6 438.4 792.4Z" fill="#ffe8d7"/>
<path d="M497.3 636.1C493.6 639.4 497.2 647.4 497.3 656.1C497.5 664.8 497.4 678.6 498.3 688.6C499.2 698.5 500.7 710.5 502.8 716.0C504.9 721.5 508.3 721.9 510.8 721.5C513.3 721.1 516.2 719.0 517.8 713.5C519.4 708.0 520.0 698.1 520.3 688.6C520.6 679.0 519.9 664.8 519.8 656.1C519.7 647.4 523.5 639.4 519.8 636.1C516.0 632.8 501.1 632.8 497.3 636.1Z" fill="#0537e6"/>
<path d="M501.8 636.1C500.4 639.4 501.7 648.6 501.8 656.1C501.9 663.6 501.8 673.2 502.3 681.1C502.8 689.0 503.7 700.2 504.8 703.5C505.9 706.9 507.8 705.6 508.8 701.0C509.8 696.5 510.6 683.6 510.8 676.1C511.1 668.6 510.4 662.8 510.3 656.1C510.2 649.4 511.7 639.4 510.3 636.1C508.9 632.8 503.2 632.8 501.8 636.1Z" fill="#0523be"/>
<path d="M505.8 661.1C506.1 661.1 506.6 666.5 506.8 669.2C507.0 671.9 507.1 674.6 507.1 677.3C507.1 680.0 507.0 682.7 506.8 685.4C506.6 688.1 506.1 693.5 505.8 693.5C505.5 693.5 505.0 688.1 504.8 685.4C504.6 682.7 504.6 680.0 504.6 677.3C504.6 674.6 504.6 671.9 504.8 669.2C505.0 666.5 505.5 661.1 505.8 661.1Z" fill="#000096"/>
<path d="M495.8 726.0C497.7 722.3 502.5 722.3 505.8 723.5C509.1 724.8 512.5 728.1 515.8 733.5C519.1 738.9 523.3 748.1 525.8 756.0C528.3 763.9 530.4 773.9 530.8 780.9C531.2 788.0 530.8 796.3 528.3 798.4C525.8 800.5 519.5 794.7 515.8 793.4C512.1 792.2 508.7 794.7 505.8 790.9C502.9 787.2 500.2 778.4 498.3 771.0C496.5 763.5 495.2 753.5 494.8 746.0C494.4 738.5 494.0 729.8 495.8 726.0Z" fill="#4178fa"/>
<path d="M500.8 733.5C502.1 727.3 505.8 725.2 508.3 726.0C510.8 726.8 514.1 732.2 515.8 738.5C517.5 744.7 518.3 755.6 518.3 763.5C518.3 771.4 517.9 782.2 515.8 785.9C513.7 789.7 508.3 789.7 505.8 785.9C503.3 782.2 501.7 772.2 500.8 763.5C500.0 754.7 499.6 739.7 500.8 733.5Z" fill="#82aaff"/>
<path d="M505.3 731.0C505.7 731.0 506.3 737.7 506.6 741.0C506.9 744.3 507.0 747.6 507.1 751.0C507.1 754.3 507.1 757.6 506.9 761.0C506.7 764.3 506.2 771.0 505.8 771.0C505.4 771.0 504.8 764.3 504.5 761.0C504.2 757.6 504.1 754.3 504.1 751.0C504.0 747.6 504.0 744.3 504.2 741.0C504.4 737.7 504.9 731.0 505.3 731.0Z" fill="#dceeff"/>
<path d="M511.3 738.5C511.6 738.5 512.1 743.5 512.3 746.0C512.5 748.5 512.6 751.0 512.6 753.5C512.6 756.0 512.5 758.5 512.3 761.0C512.1 763.5 511.6 768.5 511.3 768.5C511.0 768.5 510.5 763.5 510.3 761.0C510.1 758.5 510.1 756.0 510.1 753.5C510.1 751.0 510.1 748.5 510.3 746.0C510.5 743.5 511.0 738.5 511.3 738.5Z" fill="#dceeff"/>
<path d="M495.8 658.6C496.2 658.6 496.6 669.8 496.8 675.4C496.9 681.1 496.9 686.7 496.8 692.3C496.7 697.9 496.6 703.5 496.3 709.2C495.9 714.8 495.2 726.0 494.8 726.0C494.4 726.0 494.0 714.8 493.9 709.2C493.7 703.5 493.7 697.9 493.8 692.3C493.9 686.7 494.0 681.1 494.4 675.4C494.7 669.8 495.4 658.6 495.8 658.6Z" fill="#b4cdff"/>
<path d="M490.0 636.1C488.3 639.4 489.8 645.3 490.0 656.1C490.2 666.9 491.0 685.2 491.0 701.0C491.0 716.9 490.0 734.3 490.0 751.0C490.0 767.6 485.6 792.6 491.0 800.9C496.4 809.2 517.6 808.4 522.4 800.9C527.3 793.4 522.0 767.2 520.0 756.0C517.9 744.7 512.9 739.3 510.0 733.5C507.0 727.7 504.0 728.5 502.5 721.0C501.0 713.5 501.4 699.4 501.0 688.6C500.6 677.7 500.1 664.8 500.0 656.1C499.8 647.4 501.6 639.4 500.0 636.1C498.3 632.8 491.7 632.8 490.0 636.1Z" fill="#4178fa"/>
<path d="M490.5 636.1C489.7 639.4 490.3 645.3 490.5 656.1C490.7 666.9 491.5 685.2 491.5 701.0C491.5 716.9 490.4 736.0 490.5 751.0C490.6 766.0 488.7 784.3 492.0 790.9C495.2 797.6 506.1 794.7 510.0 790.9C513.8 787.2 515.4 776.8 515.0 768.5C514.5 760.1 510.2 748.1 507.5 741.0C504.7 733.9 500.3 734.7 498.5 726.0C496.6 717.3 497.0 700.2 496.5 688.6C496.0 676.9 495.6 664.8 495.5 656.1C495.3 647.4 496.3 639.4 495.5 636.1C494.6 632.8 491.3 632.8 490.5 636.1Z" fill="#82aaff"/>
<path d="M491.5 661.1C491.7 653.6 493.5 651.5 494.0 656.1C494.5 660.7 494.3 676.9 494.5 688.6C494.6 700.2 494.1 716.4 495.0 726.0C495.9 735.6 498.3 738.9 500.0 746.0C501.6 753.1 504.6 761.8 505.0 768.5C505.4 775.1 504.1 783.0 502.5 785.9C500.8 788.8 496.7 791.8 495.0 785.9C493.2 780.1 492.4 765.1 492.0 751.0C491.6 736.8 492.6 716.0 492.5 701.0C492.4 686.1 491.2 668.6 491.5 661.1Z" fill="#b4cdff"/>
<path d="M507.0 731.0C507.4 731.0 508.0 737.7 508.3 741.0C508.6 744.3 508.7 747.6 508.7 751.0C508.8 754.3 508.7 757.6 508.5 761.0C508.3 764.3 507.9 771.0 507.5 771.0C507.1 771.0 506.4 764.3 506.1 761.0C505.9 757.6 505.8 754.3 505.7 751.0C505.7 747.6 505.7 744.3 505.9 741.0C506.1 737.7 506.6 731.0 507.0 731.0Z" fill="#dceeff"/>
<path d="M501.0 738.5C501.2 738.5 501.7 743.5 501.9 746.0C502.1 748.5 502.2 751.0 502.2 753.5C502.3 756.0 502.3 758.5 502.1 761.0C502.0 763.5 501.7 768.5 501.5 768.5C501.2 768.5 500.8 763.5 500.5 761.0C500.3 758.5 500.3 756.0 500.2 753.5C500.2 751.0 500.2 748.5 500.3 746.0C500.4 743.5 500.7 738.5 501.0 738.5Z" fill="#dceeff"/>
<path d="M469.9 636.1C465.5 639.4 469.8 641.1 469.9 656.1C469.9 671.1 470.5 706.9 470.4 726.0C470.2 745.1 469.6 760.1 468.9 771.0C468.1 781.8 466.1 784.4 465.9 790.9C465.6 797.5 462.4 807.2 467.4 810.4C472.4 813.6 491.2 820.3 495.8 810.4C500.4 800.5 494.8 776.7 494.8 751.0C494.8 725.3 495.7 675.2 495.8 656.1C496.0 637.0 500.2 639.4 495.8 636.1C491.5 632.8 474.2 632.8 469.9 636.1Z" fill="#b4cdff"/>
<path d="M471.4 636.1C469.4 639.4 471.3 641.1 471.4 656.1C471.4 671.1 472.1 706.0 471.9 726.0C471.6 746.0 470.6 763.5 469.9 775.9C469.1 788.4 464.7 796.3 467.4 800.9C470.0 805.5 483.3 807.6 485.8 803.4C488.4 799.2 483.4 788.8 482.8 775.9C482.3 763.0 482.3 746.0 482.3 726.0C482.3 706.0 482.8 671.1 482.8 656.1C482.9 641.1 484.8 639.4 482.8 636.1C480.9 632.8 473.3 632.8 471.4 636.1Z" fill="#ffe8d7"/>
<path d="M473.4 636.1C472.2 639.4 473.4 641.1 473.4 656.1C473.4 671.1 473.6 707.7 473.4 726.0C473.1 744.3 472.9 756.4 471.9 766.0C470.9 775.5 468.4 778.4 467.4 783.4C466.4 788.4 465.6 792.8 465.9 795.9C466.1 799.1 466.4 801.3 468.9 802.4C471.4 803.5 478.6 805.2 480.8 802.4C483.1 799.7 482.4 798.7 482.3 785.9C482.3 773.2 480.7 747.6 480.3 726.0C480.0 704.4 480.3 671.1 480.3 656.1C480.3 641.1 481.5 639.4 480.3 636.1C479.2 632.8 474.5 632.8 473.4 636.1Z" fill="#ff7841"/>
<path d="M473.9 636.1C472.9 639.4 473.9 641.1 473.9 656.1C473.9 671.1 474.0 707.3 473.9 726.0C473.7 744.7 473.6 758.5 472.9 768.5C472.1 778.4 470.0 781.1 469.4 785.9C468.7 790.7 468.4 794.7 468.9 797.2C469.4 799.7 470.5 800.3 472.4 800.9C474.2 801.5 478.4 804.2 479.8 800.9C481.3 797.6 480.8 793.4 480.8 780.9C480.8 768.5 480.0 746.8 479.8 726.0C479.7 705.2 479.8 671.1 479.8 656.1C479.8 641.1 480.8 639.4 479.8 636.1C478.8 632.8 474.9 632.8 473.9 636.1Z" fill="#ff5519"/>
<path d="M474.4 636.1C473.5 639.4 474.4 641.1 474.4 656.1C474.4 671.1 474.4 706.9 474.4 726.0C474.3 745.1 474.2 760.1 473.9 771.0C473.5 781.8 472.4 786.3 472.4 790.9C472.4 795.6 472.7 797.6 473.9 798.9C475.0 800.2 478.3 801.9 479.3 798.9C480.4 795.9 480.3 793.1 480.3 780.9C480.3 768.8 479.5 746.8 479.3 726.0C479.2 705.2 479.3 671.1 479.3 656.1C479.3 641.1 480.2 639.4 479.3 636.1C478.5 632.8 475.2 632.8 474.4 636.1Z" fill="#e63205"/>
<path d="M475.1 636.1C474.5 639.4 475.1 641.1 475.1 656.1C475.1 671.1 475.1 706.9 475.1 726.0C475.1 745.1 474.8 759.7 474.9 771.0C474.9 782.2 474.8 789.7 475.4 793.4C475.9 797.2 477.7 797.2 478.3 793.4C479.0 789.7 479.3 782.2 479.3 771.0C479.4 759.7 478.7 745.1 478.6 726.0C478.5 706.9 478.6 671.1 478.6 656.1C478.6 641.1 479.2 639.4 478.6 636.1C478.0 632.8 475.7 632.8 475.1 636.1Z" fill="#c32305"/>
<path d="M476.8 701.0C477.1 701.0 477.6 716.0 477.9 723.5C478.1 731.0 478.2 738.5 478.2 746.0C478.3 753.5 478.3 761.0 478.1 768.5C478.0 775.9 477.6 790.9 477.3 790.9C477.0 790.9 476.6 775.9 476.3 768.5C476.1 761.0 476.0 753.5 476.0 746.0C475.9 738.5 475.9 731.0 476.1 723.5C476.2 716.0 476.5 701.0 476.8 701.0Z" fill="#8c0000"/>
<path d="M483.8 636.1C482.5 639.4 483.8 641.1 483.8 656.1C483.9 671.1 484.0 706.0 484.3 726.0C484.7 746.0 484.8 763.5 485.8 775.9C486.9 788.4 487.7 796.3 490.8 800.9C494.0 805.6 502.5 805.6 504.8 803.9C507.1 802.2 506.3 796.8 504.8 790.9C503.3 785.0 497.8 779.3 495.8 768.5C493.8 757.6 493.5 744.7 492.8 726.0C492.2 707.3 492.0 671.1 491.8 656.1C491.7 641.1 493.2 639.4 491.8 636.1C490.5 632.8 485.2 632.8 483.8 636.1Z" fill="#ffe8d7"/>
<path d="M484.8 636.1C483.8 639.4 484.8 641.1 484.8 656.1C484.9 671.1 485.0 706.9 485.3 726.0C485.7 745.1 485.9 759.7 486.8 771.0C487.8 782.2 489.3 790.9 490.8 793.4C492.3 795.9 495.6 793.0 495.8 785.9C496.1 778.9 493.1 765.1 492.3 751.0C491.6 736.8 491.6 716.9 491.3 701.0C491.1 685.2 490.9 666.9 490.8 656.1C490.7 645.3 491.8 639.4 490.8 636.1C489.8 632.8 485.8 632.8 484.8 636.1Z" fill="#ffc8af"/>
<path d="M485.6 636.1C484.9 639.4 485.5 641.1 485.6 656.1C485.7 671.1 485.7 707.7 486.1 726.0C486.5 744.3 487.1 757.6 487.8 766.0C488.5 774.3 489.8 779.3 490.3 775.9C490.8 772.6 490.9 758.5 490.8 746.0C490.8 733.5 490.2 716.0 490.1 701.0C489.9 686.1 489.9 666.9 489.8 656.1C489.8 645.3 490.5 639.4 489.8 636.1C489.1 632.8 486.3 632.8 485.6 636.1Z" fill="#ffa57d"/>
<path d="M492.3 775.9C492.7 772.2 495.7 770.1 497.3 771.0C498.9 771.8 500.7 776.4 501.8 780.9C503.0 785.5 504.6 794.9 504.3 798.4C504.0 801.9 501.4 802.7 499.8 801.9C498.2 801.1 496.1 797.8 494.8 793.4C493.6 789.1 491.9 779.7 492.3 775.9Z" fill="#ffa57d"/>
<path d="M497.3 780.9C497.6 777.6 499.8 776.8 500.8 778.4C501.8 780.1 503.0 787.3 503.3 790.9C503.6 794.6 503.5 799.2 502.8 800.4C502.2 801.7 500.2 801.7 499.3 798.4C498.4 795.2 497.1 784.3 497.3 780.9Z" fill="#ff5519"/>
<path d="M505.8 793.4C507.5 790.2 513.1 790.1 515.8 790.9C518.5 791.8 521.0 795.2 521.8 798.4C522.6 801.7 523.5 808.4 520.8 810.4C518.1 812.4 508.3 813.2 505.8 810.4C503.3 807.6 504.1 796.7 505.8 793.4Z" fill="#ffe8d7"/>
<path d="M508.3 798.4C509.5 797.2 513.9 795.3 515.8 795.9C517.7 796.5 520.2 800.4 519.8 801.9C519.4 803.4 515.1 804.7 513.3 804.9C511.5 805.2 509.6 804.5 508.8 803.4C508.0 802.3 507.1 799.7 508.3 798.4Z" fill="#ffa57d"/>
<path d="M528.9 636.1C523.4 639.4 528.6 645.3 528.9 656.1C529.3 666.9 530.0 688.1 530.9 701.0C531.9 713.9 533.3 723.5 534.4 733.5C535.6 743.5 537.6 751.4 537.9 761.0C538.3 770.5 536.1 784.3 536.4 790.9C536.8 797.6 535.6 799.2 539.9 800.9C544.3 802.6 558.7 828.4 562.4 800.9C566.1 773.4 568.0 663.6 562.4 636.1C556.8 608.7 534.5 632.8 528.9 636.1Z" fill="#82aaff"/>
<path d="M532.9 636.1C529.7 639.4 532.8 645.3 532.9 656.1C533.1 666.9 533.3 688.1 533.9 701.0C534.5 713.9 535.6 723.5 536.4 733.5C537.3 743.5 538.3 753.1 538.9 761.0C539.5 768.9 538.8 778.4 539.9 780.9C541.0 783.4 543.8 779.7 545.4 775.9C547.1 772.2 548.7 765.5 549.9 758.5C551.1 751.4 551.7 743.1 552.4 733.5C553.1 723.9 553.9 713.9 553.9 701.0C553.9 688.1 552.7 666.9 552.4 656.1C552.2 645.3 555.7 639.4 552.4 636.1C549.2 632.8 536.2 632.8 532.9 636.1Z" fill="#dceeff"/>
<path d="M535.4 636.1C533.0 639.4 535.3 645.3 535.4 656.1C535.5 666.9 535.5 688.1 535.9 701.0C536.3 713.9 537.1 723.5 537.9 733.5C538.8 743.5 539.9 755.1 540.9 761.0C541.9 766.8 542.9 770.1 543.9 768.5C544.9 766.8 546.0 758.0 546.9 751.0C547.8 743.9 548.7 734.3 549.4 726.0C550.1 717.7 550.8 712.7 550.9 701.0C551.0 689.4 550.1 666.9 549.9 656.1C549.7 645.3 552.3 639.4 549.9 636.1C547.5 632.8 537.8 632.8 535.4 636.1Z" fill="#ffe8d7"/>
<path d="M537.9 671.1C538.5 667.3 539.7 664.0 540.9 663.6C542.2 663.2 544.3 664.4 545.4 668.6C546.6 672.7 547.6 681.5 547.9 688.6C548.2 695.6 548.0 704.8 547.4 711.0C546.8 717.3 545.5 723.9 544.4 726.0C543.3 728.1 541.9 726.8 540.9 723.5C539.9 720.2 539.0 712.3 538.4 706.0C537.8 699.8 537.5 691.9 537.4 686.1C537.3 680.2 537.3 674.8 537.9 671.1Z" fill="#ffc8af"/>
<path d="M541.9 681.1C542.1 681.1 542.4 684.4 542.5 686.1C542.6 687.7 542.7 689.4 542.7 691.1C542.7 692.7 542.6 694.4 542.5 696.0C542.4 697.7 542.1 701.0 541.9 701.0C541.7 701.0 541.4 697.7 541.3 696.0C541.2 694.4 541.2 692.7 541.2 691.1C541.2 689.4 541.2 687.7 541.3 686.1C541.4 684.4 541.7 681.1 541.9 681.1Z" fill="#ffa57d"/>
<path d="M551.9 636.1C550.2 639.4 551.7 645.3 551.9 656.1C552.2 666.9 553.3 688.1 553.4 701.0C553.5 713.9 552.2 727.7 552.4 733.5C552.7 739.3 553.2 736.0 554.9 736.0C556.6 736.0 561.1 750.1 562.4 733.5C563.6 716.9 564.1 652.3 562.4 636.1C560.6 619.9 553.7 632.8 551.9 636.1Z" fill="#b4cdff"/>
<path d="M554.9 636.1C553.7 639.4 554.7 647.4 554.9 656.1C555.2 664.8 556.2 677.3 556.4 688.6C556.6 699.8 554.9 717.3 555.9 723.5C556.9 729.8 561.3 740.6 562.4 726.0C563.5 711.4 563.6 651.1 562.4 636.1C561.1 621.1 556.2 632.8 554.9 636.1Z" fill="#82aaff"/>
<path d="M552.9 761.0C553.7 757.8 555.8 757.6 557.4 757.2C559.0 756.8 561.6 752.8 562.4 758.5C563.2 764.1 563.5 785.7 562.4 790.9C561.3 796.1 557.6 792.2 555.9 789.7C554.2 787.2 552.9 780.7 552.4 775.9C551.9 771.2 552.1 764.1 552.9 761.0Z" fill="#82aaff"/>
<path d="M554.9 766.0C555.2 762.4 558.2 763.7 559.4 763.5C560.6 763.3 561.9 761.0 562.4 764.7C562.9 768.5 563.2 782.6 562.4 785.9C561.6 789.3 558.7 788.0 557.4 784.7C556.2 781.4 554.6 769.5 554.9 766.0Z" fill="#4178fa"/>
<path d="M520.0 726.0C521.4 719.3 527.6 719.3 529.9 723.5C532.3 727.7 533.0 741.4 533.9 751.0C534.8 760.5 535.6 773.0 535.4 780.9C535.3 788.8 534.7 795.9 532.9 798.4C531.2 800.9 526.9 801.7 524.9 795.9C523.0 790.1 522.3 775.1 521.4 763.5C520.6 751.8 518.5 732.7 520.0 726.0Z" fill="#1955ff"/>
<path d="M527.4 798.4C529.5 795.6 534.1 794.4 539.9 793.4C545.8 792.4 558.7 789.6 562.4 792.4C566.1 795.3 568.2 807.4 562.4 810.4C556.6 813.4 533.3 812.4 527.4 810.4C521.6 808.4 525.4 801.2 527.4 798.4Z" fill="#dceeff"/>
<path d="M536.4 800.9C538.3 798.7 543.1 797.8 547.4 796.9C551.7 796.1 559.9 793.7 562.4 795.9C564.9 798.2 566.7 808.0 562.4 810.4C558.1 812.8 540.8 812.0 536.4 810.4C532.1 808.8 534.6 803.2 536.4 800.9Z" fill="#ffe8d7"/>
<path d="M539.9 803.4C541.6 801.7 546.8 800.3 549.9 799.9C553.0 799.5 557.0 799.2 558.7 800.9C560.3 802.7 563.0 808.8 559.9 810.4C556.8 812.0 543.3 811.6 539.9 810.4C536.6 809.2 538.3 805.2 539.9 803.4Z" fill="#ffc8af"/></g><path d="M185.4 808.7L185.4 801.6L186.3 801.6L186.3 798.0L200.1 798.0L200.1 792.3L202.7 792.3L202.7 787.3L207.0 787.3L207.0 782.2L210.4 782.2L210.4 792.3L214.1 792.3L214.1 798.0L215.9 798.0L215.9 808.7ZM295.2 808.7V803.1H297.9V808.7ZM476.8 808.7V803.1H504.9V808.7Z" fill="#000"/>
</g>
<rect x="173.2" y="658.1" width="385.40000000000003" height="149.9" fill="none" stroke="#000" stroke-width="1.3"/>
<path d="M173.20 658.1v-9.6M173.20 808.0v9.6M237.43 658.1v-9.6M237.43 808.0v9.6M301.67 658.1v-9.6M301.67 808.0v9.6M365.90 658.1v-9.6M365.90 808.0v9.6M430.13 658.1v-9.6M430.13 808.0v9.6M494.37 658.1v-9.6M494.37 808.0v9.6M173.2 658.10h-9.6M173.2 679.51h-9.6M173.2 700.93h-9.6M173.2 743.76h-9.6M173.2 775.88h-9.6M173.2 808.00h-9.6M558.6 670.00h9.6M558.6 726.50h9.6" stroke="#000" stroke-width="1.05" fill="none"/>
<path d="M205.32 658.1v-5M205.32 808.0v5M269.55 658.1v-5M269.55 808.0v5M333.78 658.1v-5M333.78 808.0v5M398.02 658.1v-5M398.02 808.0v5M462.25 658.1v-5M462.25 808.0v5M526.48 658.1v-5M526.48 808.0v5" stroke="#222" stroke-width="0.6" fill="none"/>
<text transform="translate(157.9 662.40) scale(1.15 1)" text-anchor="end" class="tk">300</text>
<text transform="translate(157.9 683.81) scale(1.15 1)" text-anchor="end" class="tk">400</text>
<text transform="translate(157.9 705.23) scale(1.15 1)" text-anchor="end" class="tk">500</text>
<text transform="translate(157.9 748.06) scale(1.15 1)" text-anchor="end" class="tk">700</text>
<text transform="translate(157.9 780.18) scale(1.15 1)" text-anchor="end" class="tk">850</text>
<text transform="translate(157.9 812.30) scale(1.15 1)" text-anchor="end" class="tk">1000</text>
<text transform="translate(573.3 674.30) scale(1.15 1)" class="tk">8</text>
<text transform="translate(573.3 730.80) scale(1.15 1)" class="tk">4</text>
<text transform="translate(173.20 831.50) scale(1.1 1)" text-anchor="middle" class="tk">0</text>
<text transform="translate(237.43 831.50) scale(1.1 1)" text-anchor="middle" class="tk">60E</text>
<text transform="translate(301.67 831.50) scale(1.1 1)" text-anchor="middle" class="tk">120E</text>
<text transform="translate(365.90 831.50) scale(1.1 1)" text-anchor="middle" class="tk">180</text>
<text transform="translate(430.13 831.50) scale(1.1 1)" text-anchor="middle" class="tk">120W</text>
<text transform="translate(494.37 831.50) scale(1.1 1)" text-anchor="middle" class="tk">60W</text>
<text transform="translate(121 792.60) rotate(-90)" class="ax" textLength="69.8" lengthAdjust="spacing">Pressure</text>
<text transform="translate(121 711.80) rotate(-90)" class="ax" textLength="39" lengthAdjust="spacing">(mb)</text>
<text transform="translate(605 782.30) rotate(-90)" class="ax" textLength="50.2" lengthAdjust="spacing">Height</text>
<text transform="translate(605 721.50) rotate(-90)" class="ax" textLength="37" lengthAdjust="spacing">(km)</text>
<text x="172" y="645.80" class="ts" textLength="140" lengthAdjust="spacing">Total diabatic heating</text>
<text x="559.6" y="645.80" text-anchor="end" class="ts" textLength="39.5" lengthAdjust="spacing">K/day</text>
<text x="365.5" y="623.10" text-anchor="middle" class="ti">b.e13.B1850C5CN.ne120_g16.tuning.005 - f.e13.FAMIPC5.ne120_ne120.1979_2012.002</text>
<text y="840.40" class="mm"><tspan x="292.8" textLength="18" lengthAdjust="spacingAndGlyphs">MIN</tspan><tspan x="314.4">=</tspan><tspan x="332.8" textLength="27.8" lengthAdjust="spacingAndGlyphs">−2.22</tspan><tspan x="371.4" textLength="18" lengthAdjust="spacingAndGlyphs">MAX</tspan><tspan x="395.4">=</tspan><tspan x="417.5" textLength="21" lengthAdjust="spacingAndGlyphs">4.39</tspan></text>
<rect x="175.50" y="849.20" width="23.81" height="6.3" fill="#000096" stroke="#111" stroke-width="0.6"/>
<rect x="199.31" y="849.20" width="23.81" height="6.3" fill="#0523be" stroke="#111" stroke-width="0.6"/>
<rect x="223.12" y="849.20" width="23.81" height="6.3" fill="#0537e6" stroke="#111" stroke-width="0.6"/>
<rect x="246.94" y="849.20" width="23.81" height="6.3" fill="#1955ff" stroke="#111" stroke-width="0.6"/>
<rect x="270.75" y="849.20" width="23.81" height="6.3" fill="#4178fa" stroke="#111" stroke-width="0.6"/>
<rect x="294.56" y="849.20" width="23.81" height="6.3" fill="#82aaff" stroke="#111" stroke-width="0.6"/>
<rect x="318.38" y="849.20" width="23.81" height="6.3" fill="#b4cdff" stroke="#111" stroke-width="0.6"/>
<rect x="342.19" y="849.20" width="23.81" height="6.3" fill="#dceeff" stroke="#111" stroke-width="0.6"/>
<rect x="366.00" y="849.20" width="23.81" height="6.3" fill="#ffe8d7" stroke="#111" stroke-width="0.6"/>
<rect x="389.81" y="849.20" width="23.81" height="6.3" fill="#ffc8af" stroke="#111" stroke-width="0.6"/>
<rect x="413.62" y="849.20" width="23.81" height="6.3" fill="#ffa57d" stroke="#111" stroke-width="0.6"/>
<rect x="437.44" y="849.20" width="23.81" height="6.3" fill="#ff7841" stroke="#111" stroke-width="0.6"/>
<rect x="461.25" y="849.20" width="23.81" height="6.3" fill="#ff5519" stroke="#111" stroke-width="0.6"/>
<rect x="485.06" y="849.20" width="23.81" height="6.3" fill="#e63205" stroke="#111" stroke-width="0.6"/>
<rect x="508.88" y="849.20" width="23.81" height="6.3" fill="#c32305" stroke="#111" stroke-width="0.6"/>
<rect x="532.69" y="849.20" width="23.81" height="6.3" fill="#8c0000" stroke="#111" stroke-width="0.6"/>
<text transform="translate(223.12 866.40) scale(1.1 1)" text-anchor="middle" class="cb">−1.5</text>
<text transform="translate(270.75 866.40) scale(1.1 1)" text-anchor="middle" class="cb">−0.9</text>
<text transform="translate(318.38 866.40) scale(1.1 1)" text-anchor="middle" class="cb">−0.3</text>
<text transform="translate(366.00 866.40) scale(1.1 1)" text-anchor="middle" class="cb">0</text>
<text transform="translate(413.62 866.40) scale(1.1 1)" text-anchor="middle" class="cb">0.3</text>
<text transform="translate(461.25 866.40) scale(1.1 1)" text-anchor="middle" class="cb">0.9</text>
<text transform="translate(508.88 866.40) scale(1.1 1)" text-anchor="middle" class="cb">1.5</text>
</g>
</svg></body></html>
